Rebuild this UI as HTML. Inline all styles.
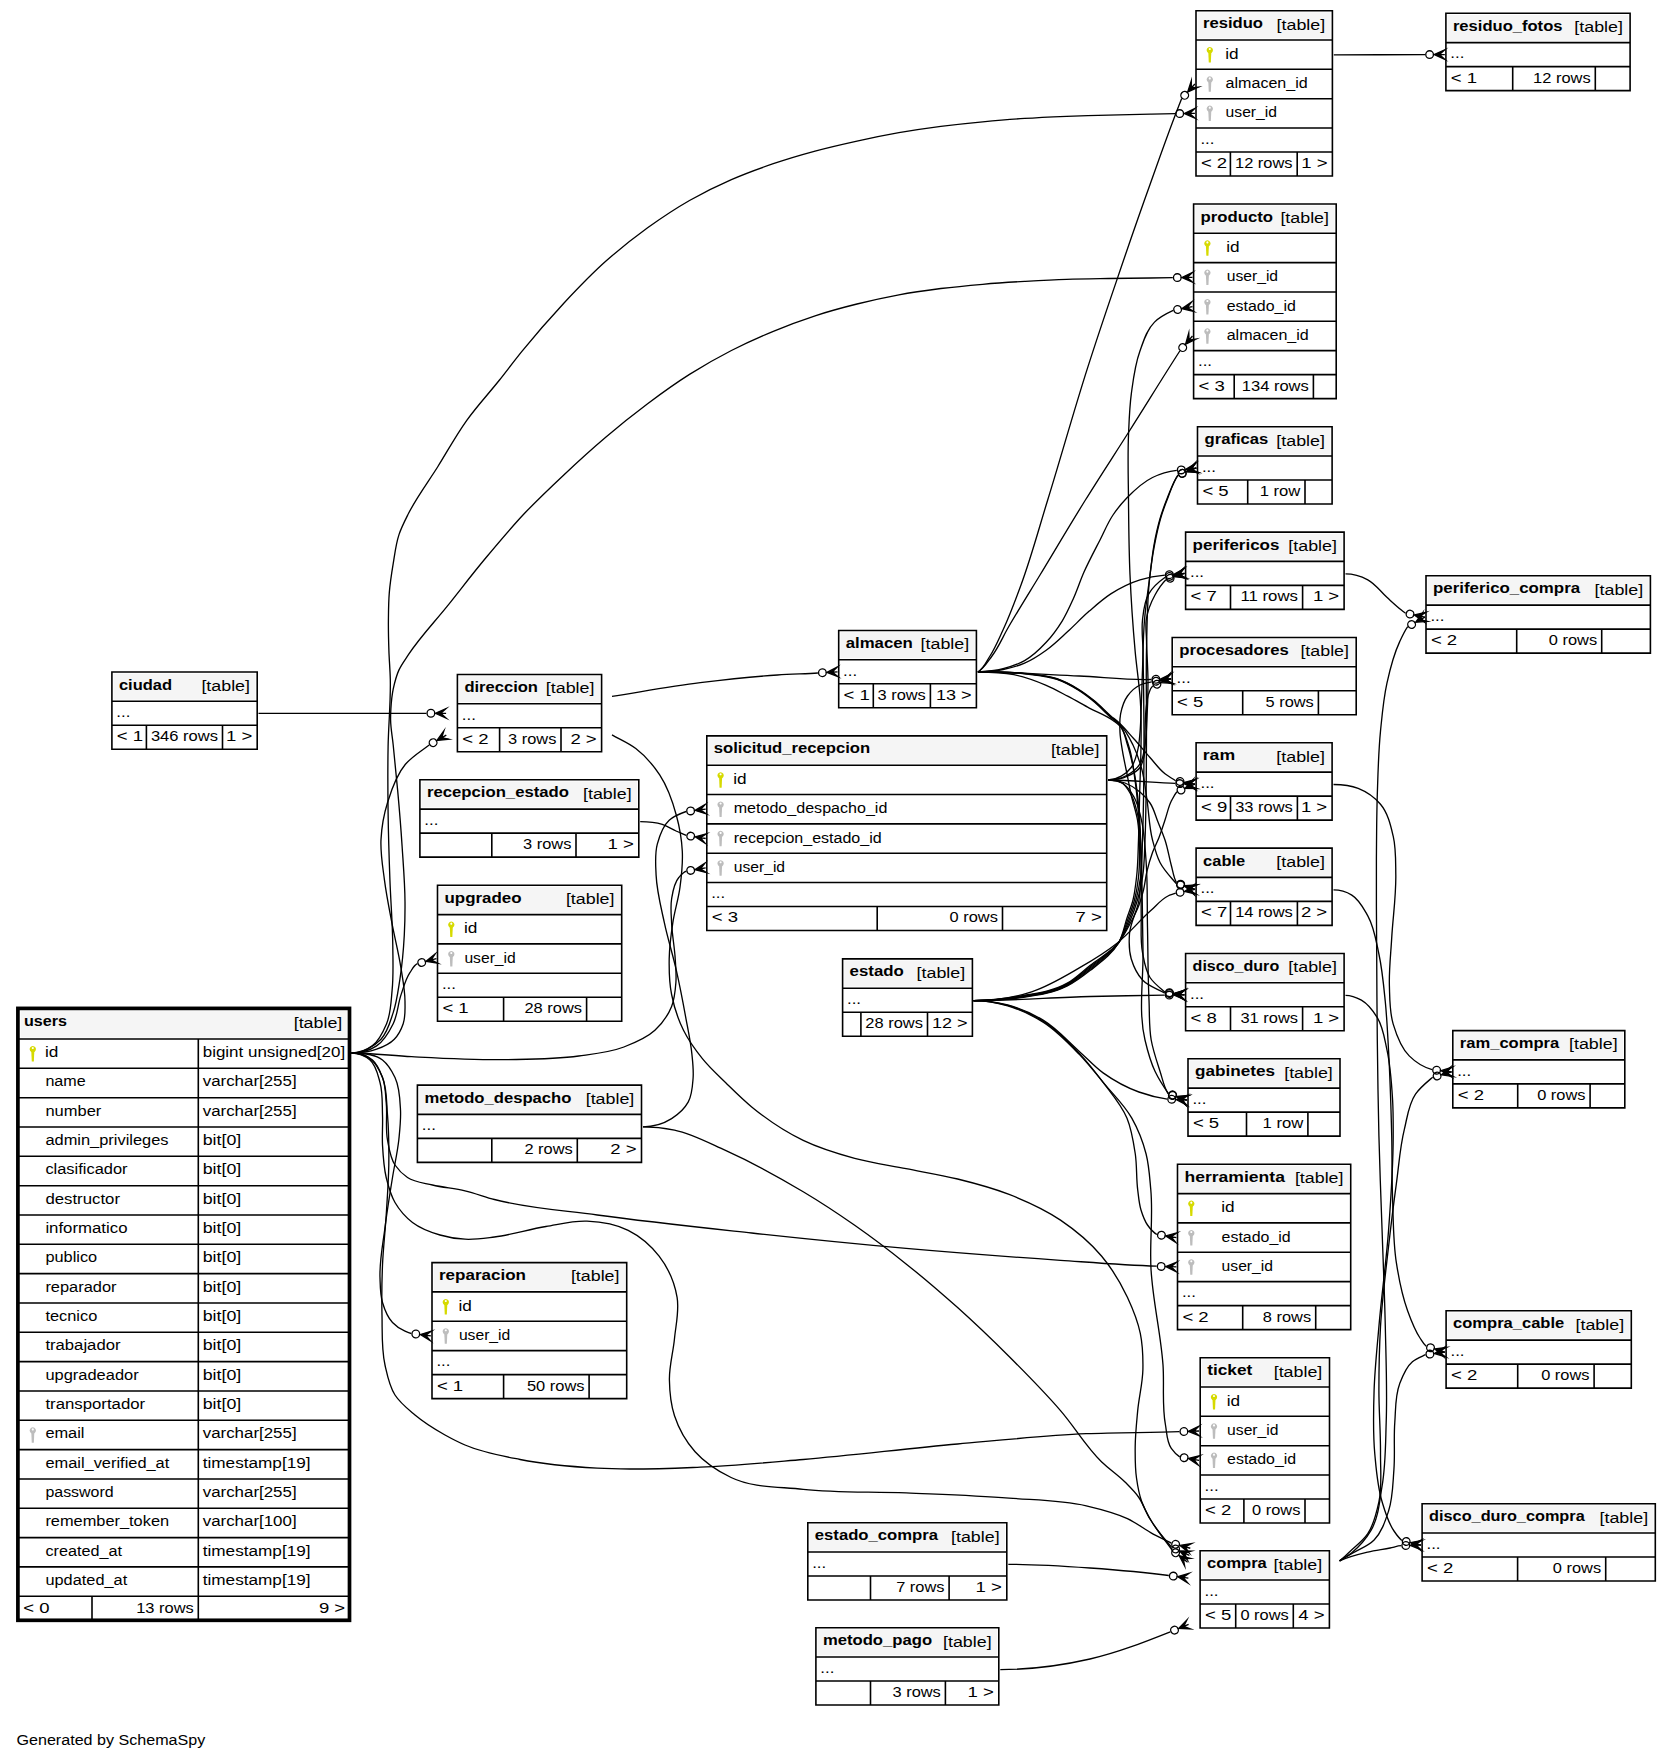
<!DOCTYPE html>
<html><head><meta charset="utf-8"><title>SchemaSpy relationships</title>
<style>
html,body{margin:0;padding:0;background:#fff}
svg{display:block}
text{font-family:"Liberation Sans",sans-serif;font-size:15.4px;fill:#000;stroke:none}
.b{font-weight:bold}
.t{stroke:#000;stroke-width:1.6;fill:none}
.e{stroke:#000;stroke-width:1.33;fill:none}
</style></head><body>
<svg width="1671" height="1760" viewBox="0 0 1671 1760">
<defs><g id="m"><circle r="3.85" fill="none"/><path d="M4.5 0L15.2 -4.8L9.85 0L15.2 0L9.85 0L15.2 4.8Z" fill="#000" stroke-miterlimit="10"/></g></defs>
<rect width="1671" height="1760" fill="#fff"/>
<g class="t">
<rect x="111.9" y="672.0" width="145.3" height="77.3" fill="#fff" stroke="none"/>
<rect x="113.6" y="673.7" width="141.9" height="25.9" fill="#f5f5f5" stroke="none"/>
<path d="M111.9 672.0H257.2V749.3H111.9ZM111.9 701.3H257.2M111.9 725.3H257.2M146.4 725.3V749.3M222.5 725.3V749.3"/>
</g>
<text x="118.9" y="689.5" class="b" textLength="53.1" lengthAdjust="spacingAndGlyphs">ciudad</text>
<text x="250.0" y="690.8" text-anchor="end" textLength="48.6" lengthAdjust="spacingAndGlyphs">[table]</text>
<text x="116.3" y="717.1" textLength="14.0" lengthAdjust="spacingAndGlyphs">...</text>
<text x="116.8" y="741.2" textLength="26.3" lengthAdjust="spacingAndGlyphs">&lt; 1</text>
<text x="217.9" y="741.2" text-anchor="end" textLength="67.0" lengthAdjust="spacingAndGlyphs">346 rows</text>
<text x="252.3" y="741.2" text-anchor="end" textLength="26.3" lengthAdjust="spacingAndGlyphs">1 &gt;</text>
<g class="t">
<rect x="457.4" y="674.5" width="144.2" height="77.3" fill="#fff" stroke="none"/>
<rect x="459.1" y="676.2" width="140.8" height="25.9" fill="#f5f5f5" stroke="none"/>
<path d="M457.4 674.5H601.6V751.8H457.4ZM457.4 703.8H601.6M457.4 727.8H601.6M499.6 727.8V751.8M561.0 727.8V751.8"/>
</g>
<text x="464.4" y="692.0" class="b" textLength="73.6" lengthAdjust="spacingAndGlyphs">direccion</text>
<text x="594.4" y="693.3" text-anchor="end" textLength="48.6" lengthAdjust="spacingAndGlyphs">[table]</text>
<text x="461.8" y="719.6" textLength="14.0" lengthAdjust="spacingAndGlyphs">...</text>
<text x="462.3" y="743.7" textLength="26.3" lengthAdjust="spacingAndGlyphs">&lt; 2</text>
<text x="556.4" y="743.7" text-anchor="end" textLength="48.3" lengthAdjust="spacingAndGlyphs">3 rows</text>
<text x="596.7" y="743.7" text-anchor="end" textLength="26.3" lengthAdjust="spacingAndGlyphs">2 &gt;</text>
<g class="t">
<rect x="419.9" y="779.8" width="218.9" height="77.3" fill="#fff" stroke="none"/>
<rect x="421.6" y="781.5" width="215.5" height="25.9" fill="#f5f5f5" stroke="none"/>
<path d="M419.9 779.8H638.8V857.1H419.9ZM419.9 809.1H638.8M419.9 833.1H638.8M491.8 833.1V857.1M576.0 833.1V857.1"/>
</g>
<text x="426.9" y="797.3" class="b" textLength="142.1" lengthAdjust="spacingAndGlyphs">recepcion_estado</text>
<text x="631.6" y="798.6" text-anchor="end" textLength="48.6" lengthAdjust="spacingAndGlyphs">[table]</text>
<text x="424.3" y="824.9" textLength="14.0" lengthAdjust="spacingAndGlyphs">...</text>
<text x="571.4" y="849.0" text-anchor="end" textLength="48.3" lengthAdjust="spacingAndGlyphs">3 rows</text>
<text x="633.9" y="849.0" text-anchor="end" textLength="26.3" lengthAdjust="spacingAndGlyphs">1 &gt;</text>
<g class="t">
<rect x="437.5" y="885.3" width="184.2" height="136.0" fill="#fff" stroke="none"/>
<rect x="439.2" y="887.0" width="180.8" height="25.9" fill="#f5f5f5" stroke="none"/>
<path d="M437.5 885.3H621.7V1021.3H437.5ZM437.5 914.6H621.7M437.5 943.9H621.7M437.5 973.3H621.7M437.5 997.3H621.7M503.6 997.3V1021.3M586.6 997.3V1021.3"/>
</g>
<text x="444.5" y="902.8" class="b" textLength="77.1" lengthAdjust="spacingAndGlyphs">upgradeo</text>
<text x="614.5" y="904.1" text-anchor="end" textLength="48.6" lengthAdjust="spacingAndGlyphs">[table]</text>
<g transform="translate(451.3 929.5)" fill="#d6da00" stroke="none"><path fill-rule="evenodd" d="M0 -7.9a3.15 3.15 0 1 0 0.001 0zM0 -6.9a1.05 1.05 0 1 1 -0.001 0z"/><path d="M-1.5 -2.6L1.5 -2.6L1.05 7.6L-1.05 7.6z"/></g>
<text x="464.0" y="933.2" textLength="13.4" lengthAdjust="spacingAndGlyphs">id</text>
<g transform="translate(451.3 958.8)" fill="#bdbdbd" stroke="none"><path fill-rule="evenodd" d="M0 -7.9a3.15 3.15 0 1 0 0.001 0zM0 -6.9a1.05 1.05 0 1 1 -0.001 0z"/><path d="M-1.5 -2.6L1.5 -2.6L1.05 7.6L-1.05 7.6z"/></g>
<text x="464.4" y="962.5" textLength="51.4" lengthAdjust="spacingAndGlyphs">user_id</text>
<text x="441.9" y="989.1" textLength="14.0" lengthAdjust="spacingAndGlyphs">...</text>
<text x="442.4" y="1013.2" textLength="26.3" lengthAdjust="spacingAndGlyphs">&lt; 1</text>
<text x="582.0" y="1013.2" text-anchor="end" textLength="57.6" lengthAdjust="spacingAndGlyphs">28 rows</text>
<g class="t">
<rect x="417.4" y="1085.1" width="224.1" height="77.3" fill="#fff" stroke="none"/>
<rect x="419.1" y="1086.8" width="220.7" height="25.9" fill="#f5f5f5" stroke="none"/>
<path d="M417.4 1085.1H641.5V1162.4H417.4ZM417.4 1114.4H641.5M417.4 1138.4H641.5M491.8 1138.4V1162.4M577.3 1138.4V1162.4"/>
</g>
<text x="424.4" y="1102.6" class="b" textLength="147.0" lengthAdjust="spacingAndGlyphs">metodo_despacho</text>
<text x="634.3" y="1103.9" text-anchor="end" textLength="48.6" lengthAdjust="spacingAndGlyphs">[table]</text>
<text x="421.8" y="1130.2" textLength="14.0" lengthAdjust="spacingAndGlyphs">...</text>
<text x="572.7" y="1154.3" text-anchor="end" textLength="48.3" lengthAdjust="spacingAndGlyphs">2 rows</text>
<text x="636.6" y="1154.3" text-anchor="end" textLength="26.3" lengthAdjust="spacingAndGlyphs">2 &gt;</text>
<g class="t">
<rect x="432.0" y="1262.6" width="194.7" height="136.0" fill="#fff" stroke="none"/>
<rect x="433.7" y="1264.3" width="191.3" height="25.9" fill="#f5f5f5" stroke="none"/>
<path d="M432.0 1262.6H626.7V1398.6H432.0ZM432.0 1291.9H626.7M432.0 1321.2H626.7M432.0 1350.6H626.7M432.0 1374.6H626.7M503.6 1374.6V1398.6M589.1 1374.6V1398.6"/>
</g>
<text x="439.0" y="1280.1" class="b" textLength="87.0" lengthAdjust="spacingAndGlyphs">reparacion</text>
<text x="619.5" y="1281.4" text-anchor="end" textLength="48.6" lengthAdjust="spacingAndGlyphs">[table]</text>
<g transform="translate(445.8 1306.8)" fill="#d6da00" stroke="none"><path fill-rule="evenodd" d="M0 -7.9a3.15 3.15 0 1 0 0.001 0zM0 -6.9a1.05 1.05 0 1 1 -0.001 0z"/><path d="M-1.5 -2.6L1.5 -2.6L1.05 7.6L-1.05 7.6z"/></g>
<text x="458.5" y="1310.5" textLength="13.4" lengthAdjust="spacingAndGlyphs">id</text>
<g transform="translate(445.8 1336.1)" fill="#bdbdbd" stroke="none"><path fill-rule="evenodd" d="M0 -7.9a3.15 3.15 0 1 0 0.001 0zM0 -6.9a1.05 1.05 0 1 1 -0.001 0z"/><path d="M-1.5 -2.6L1.5 -2.6L1.05 7.6L-1.05 7.6z"/></g>
<text x="458.9" y="1339.8" textLength="51.4" lengthAdjust="spacingAndGlyphs">user_id</text>
<text x="436.4" y="1366.4" textLength="14.0" lengthAdjust="spacingAndGlyphs">...</text>
<text x="436.9" y="1390.5" textLength="26.3" lengthAdjust="spacingAndGlyphs">&lt; 1</text>
<text x="584.5" y="1390.5" text-anchor="end" textLength="57.6" lengthAdjust="spacingAndGlyphs">50 rows</text>
<g class="t">
<rect x="838.7" y="630.5" width="137.7" height="77.3" fill="#fff" stroke="none"/>
<rect x="840.4" y="632.2" width="134.3" height="25.9" fill="#f5f5f5" stroke="none"/>
<path d="M838.7 630.5H976.4V707.8H838.7ZM838.7 659.8H976.4M838.7 683.8H976.4M873.3 683.8V707.8M930.4 683.8V707.8"/>
</g>
<text x="845.7" y="648.0" class="b" textLength="67.2" lengthAdjust="spacingAndGlyphs">almacen</text>
<text x="969.2" y="649.3" text-anchor="end" textLength="48.6" lengthAdjust="spacingAndGlyphs">[table]</text>
<text x="843.1" y="675.6" textLength="14.0" lengthAdjust="spacingAndGlyphs">...</text>
<text x="843.6" y="699.7" textLength="26.3" lengthAdjust="spacingAndGlyphs">&lt; 1</text>
<text x="925.8" y="699.7" text-anchor="end" textLength="48.3" lengthAdjust="spacingAndGlyphs">3 rows</text>
<text x="971.5" y="699.7" text-anchor="end" textLength="35.6" lengthAdjust="spacingAndGlyphs">13 &gt;</text>
<g class="t">
<rect x="706.8" y="735.9" width="399.9" height="194.6" fill="#fff" stroke="none"/>
<rect x="708.5" y="737.6" width="396.5" height="25.9" fill="#f5f5f5" stroke="none"/>
<path d="M706.8 735.9H1106.7V930.5H706.8ZM706.8 765.2H1106.7M706.8 794.5H1106.7M706.8 823.9H1106.7M706.8 853.2H1106.7M706.8 882.5H1106.7M706.8 906.5H1106.7M877.2 906.5V930.5M1002.5 906.5V930.5"/>
</g>
<text x="713.8" y="753.4" class="b" textLength="156.4" lengthAdjust="spacingAndGlyphs">solicitud_recepcion</text>
<text x="1099.5" y="754.7" text-anchor="end" textLength="48.6" lengthAdjust="spacingAndGlyphs">[table]</text>
<g transform="translate(720.6 780.1)" fill="#d6da00" stroke="none"><path fill-rule="evenodd" d="M0 -7.9a3.15 3.15 0 1 0 0.001 0zM0 -6.9a1.05 1.05 0 1 1 -0.001 0z"/><path d="M-1.5 -2.6L1.5 -2.6L1.05 7.6L-1.05 7.6z"/></g>
<text x="733.3" y="783.8" textLength="13.4" lengthAdjust="spacingAndGlyphs">id</text>
<g transform="translate(720.6 809.4)" fill="#bdbdbd" stroke="none"><path fill-rule="evenodd" d="M0 -7.9a3.15 3.15 0 1 0 0.001 0zM0 -6.9a1.05 1.05 0 1 1 -0.001 0z"/><path d="M-1.5 -2.6L1.5 -2.6L1.05 7.6L-1.05 7.6z"/></g>
<text x="733.7" y="813.1" textLength="153.7" lengthAdjust="spacingAndGlyphs">metodo_despacho_id</text>
<g transform="translate(720.6 838.7)" fill="#bdbdbd" stroke="none"><path fill-rule="evenodd" d="M0 -7.9a3.15 3.15 0 1 0 0.001 0zM0 -6.9a1.05 1.05 0 1 1 -0.001 0z"/><path d="M-1.5 -2.6L1.5 -2.6L1.05 7.6L-1.05 7.6z"/></g>
<text x="733.7" y="842.5" textLength="148.0" lengthAdjust="spacingAndGlyphs">recepcion_estado_id</text>
<g transform="translate(720.6 868.1)" fill="#bdbdbd" stroke="none"><path fill-rule="evenodd" d="M0 -7.9a3.15 3.15 0 1 0 0.001 0zM0 -6.9a1.05 1.05 0 1 1 -0.001 0z"/><path d="M-1.5 -2.6L1.5 -2.6L1.05 7.6L-1.05 7.6z"/></g>
<text x="733.7" y="871.8" textLength="51.4" lengthAdjust="spacingAndGlyphs">user_id</text>
<text x="711.2" y="898.3" textLength="14.0" lengthAdjust="spacingAndGlyphs">...</text>
<text x="711.7" y="922.4" textLength="26.3" lengthAdjust="spacingAndGlyphs">&lt; 3</text>
<text x="997.9" y="922.4" text-anchor="end" textLength="48.3" lengthAdjust="spacingAndGlyphs">0 rows</text>
<text x="1101.8" y="922.4" text-anchor="end" textLength="26.3" lengthAdjust="spacingAndGlyphs">7 &gt;</text>
<g class="t">
<rect x="842.6" y="958.9" width="129.8" height="77.3" fill="#fff" stroke="none"/>
<rect x="844.3" y="960.6" width="126.4" height="25.9" fill="#f5f5f5" stroke="none"/>
<path d="M842.6 958.9H972.4V1036.2H842.6ZM842.6 988.2H972.4M842.6 1012.2H972.4M860.9 1012.2V1036.2M927.5 1012.2V1036.2"/>
</g>
<text x="849.6" y="976.4" class="b" textLength="54.2" lengthAdjust="spacingAndGlyphs">estado</text>
<text x="965.2" y="977.7" text-anchor="end" textLength="48.6" lengthAdjust="spacingAndGlyphs">[table]</text>
<text x="847.0" y="1004.0" textLength="14.0" lengthAdjust="spacingAndGlyphs">...</text>
<text x="922.9" y="1028.1" text-anchor="end" textLength="57.6" lengthAdjust="spacingAndGlyphs">28 rows</text>
<text x="967.5" y="1028.1" text-anchor="end" textLength="35.6" lengthAdjust="spacingAndGlyphs">12 &gt;</text>
<g class="t">
<rect x="807.8" y="1522.7" width="199.0" height="77.3" fill="#fff" stroke="none"/>
<rect x="809.5" y="1524.4" width="195.6" height="25.9" fill="#f5f5f5" stroke="none"/>
<path d="M807.8 1522.7H1006.8V1600.0H807.8ZM807.8 1552.0H1006.8M807.8 1576.0H1006.8M870.5 1576.0V1600.0M949.1 1576.0V1600.0"/>
</g>
<text x="814.8" y="1540.2" class="b" textLength="123.2" lengthAdjust="spacingAndGlyphs">estado_compra</text>
<text x="999.6" y="1541.5" text-anchor="end" textLength="48.6" lengthAdjust="spacingAndGlyphs">[table]</text>
<text x="812.2" y="1567.8" textLength="14.0" lengthAdjust="spacingAndGlyphs">...</text>
<text x="944.5" y="1591.9" text-anchor="end" textLength="48.3" lengthAdjust="spacingAndGlyphs">7 rows</text>
<text x="1001.9" y="1591.9" text-anchor="end" textLength="26.3" lengthAdjust="spacingAndGlyphs">1 &gt;</text>
<g class="t">
<rect x="815.9" y="1627.7" width="182.9" height="77.3" fill="#fff" stroke="none"/>
<rect x="817.6" y="1629.4" width="179.5" height="25.9" fill="#f5f5f5" stroke="none"/>
<path d="M815.9 1627.7H998.8V1705.0H815.9ZM815.9 1657.0H998.8M815.9 1681.0H998.8M870.5 1681.0V1705.0M945.4 1681.0V1705.0"/>
</g>
<text x="822.9" y="1645.2" class="b" textLength="109.2" lengthAdjust="spacingAndGlyphs">metodo_pago</text>
<text x="991.6" y="1646.5" text-anchor="end" textLength="48.6" lengthAdjust="spacingAndGlyphs">[table]</text>
<text x="820.3" y="1672.8" textLength="14.0" lengthAdjust="spacingAndGlyphs">...</text>
<text x="940.8" y="1696.9" text-anchor="end" textLength="48.3" lengthAdjust="spacingAndGlyphs">3 rows</text>
<text x="993.9" y="1696.9" text-anchor="end" textLength="26.3" lengthAdjust="spacingAndGlyphs">1 &gt;</text>
<g class="t">
<rect x="1196.0" y="10.7" width="136.4" height="165.3" fill="#fff" stroke="none"/>
<rect x="1197.7" y="12.4" width="133.0" height="25.9" fill="#f5f5f5" stroke="none"/>
<path d="M1196.0 10.7H1332.4V176.0H1196.0ZM1196.0 40.0H1332.4M1196.0 69.3H1332.4M1196.0 98.7H1332.4M1196.0 128.0H1332.4M1196.0 152.0H1332.4M1230.4 152.0V176.0M1297.2 152.0V176.0"/>
</g>
<text x="1203.0" y="28.2" class="b" textLength="60.0" lengthAdjust="spacingAndGlyphs">residuo</text>
<text x="1325.2" y="29.5" text-anchor="end" textLength="48.6" lengthAdjust="spacingAndGlyphs">[table]</text>
<g transform="translate(1209.8 54.9)" fill="#d6da00" stroke="none"><path fill-rule="evenodd" d="M0 -7.9a3.15 3.15 0 1 0 0.001 0zM0 -6.9a1.05 1.05 0 1 1 -0.001 0z"/><path d="M-1.5 -2.6L1.5 -2.6L1.05 7.6L-1.05 7.6z"/></g>
<text x="1225.2" y="58.6" textLength="13.4" lengthAdjust="spacingAndGlyphs">id</text>
<g transform="translate(1209.8 84.2)" fill="#bdbdbd" stroke="none"><path fill-rule="evenodd" d="M0 -7.9a3.15 3.15 0 1 0 0.001 0zM0 -6.9a1.05 1.05 0 1 1 -0.001 0z"/><path d="M-1.5 -2.6L1.5 -2.6L1.05 7.6L-1.05 7.6z"/></g>
<text x="1225.6" y="87.9" textLength="82.1" lengthAdjust="spacingAndGlyphs">almacen_id</text>
<g transform="translate(1209.8 113.5)" fill="#bdbdbd" stroke="none"><path fill-rule="evenodd" d="M0 -7.9a3.15 3.15 0 1 0 0.001 0zM0 -6.9a1.05 1.05 0 1 1 -0.001 0z"/><path d="M-1.5 -2.6L1.5 -2.6L1.05 7.6L-1.05 7.6z"/></g>
<text x="1225.6" y="117.3" textLength="51.4" lengthAdjust="spacingAndGlyphs">user_id</text>
<text x="1200.4" y="143.8" textLength="14.0" lengthAdjust="spacingAndGlyphs">...</text>
<text x="1200.9" y="167.9" textLength="26.3" lengthAdjust="spacingAndGlyphs">&lt; 2</text>
<text x="1292.6" y="167.9" text-anchor="end" textLength="57.6" lengthAdjust="spacingAndGlyphs">12 rows</text>
<text x="1327.5" y="167.9" text-anchor="end" textLength="26.3" lengthAdjust="spacingAndGlyphs">1 &gt;</text>
<g class="t">
<rect x="1445.9" y="13.3" width="184.2" height="77.3" fill="#fff" stroke="none"/>
<rect x="1447.6" y="15.0" width="180.8" height="25.9" fill="#f5f5f5" stroke="none"/>
<path d="M1445.9 13.3H1630.1V90.6H1445.9ZM1445.9 42.6H1630.1M1445.9 66.6H1630.1M1512.7 66.6V90.6M1595.3 66.6V90.6"/>
</g>
<text x="1452.9" y="30.8" class="b" textLength="109.6" lengthAdjust="spacingAndGlyphs">residuo_fotos</text>
<text x="1622.9" y="32.1" text-anchor="end" textLength="48.6" lengthAdjust="spacingAndGlyphs">[table]</text>
<text x="1450.3" y="58.4" textLength="14.0" lengthAdjust="spacingAndGlyphs">...</text>
<text x="1450.8" y="82.5" textLength="26.3" lengthAdjust="spacingAndGlyphs">&lt; 1</text>
<text x="1590.7" y="82.5" text-anchor="end" textLength="57.6" lengthAdjust="spacingAndGlyphs">12 rows</text>
<g class="t">
<rect x="1193.6" y="204.0" width="142.6" height="194.6" fill="#fff" stroke="none"/>
<rect x="1195.3" y="205.7" width="139.2" height="25.9" fill="#f5f5f5" stroke="none"/>
<path d="M1193.6 204.0H1336.2V398.6H1193.6ZM1193.6 233.3H1336.2M1193.6 262.6H1336.2M1193.6 292.0H1336.2M1193.6 321.3H1336.2M1193.6 350.6H1336.2M1193.6 374.6H1336.2M1234.2 374.6V398.6M1313.4 374.6V398.6"/>
</g>
<text x="1200.6" y="221.5" class="b" textLength="72.5" lengthAdjust="spacingAndGlyphs">producto</text>
<text x="1329.0" y="222.8" text-anchor="end" textLength="48.6" lengthAdjust="spacingAndGlyphs">[table]</text>
<g transform="translate(1207.4 248.2)" fill="#d6da00" stroke="none"><path fill-rule="evenodd" d="M0 -7.9a3.15 3.15 0 1 0 0.001 0zM0 -6.9a1.05 1.05 0 1 1 -0.001 0z"/><path d="M-1.5 -2.6L1.5 -2.6L1.05 7.6L-1.05 7.6z"/></g>
<text x="1226.3" y="251.9" textLength="13.4" lengthAdjust="spacingAndGlyphs">id</text>
<g transform="translate(1207.4 277.5)" fill="#bdbdbd" stroke="none"><path fill-rule="evenodd" d="M0 -7.9a3.15 3.15 0 1 0 0.001 0zM0 -6.9a1.05 1.05 0 1 1 -0.001 0z"/><path d="M-1.5 -2.6L1.5 -2.6L1.05 7.6L-1.05 7.6z"/></g>
<text x="1226.7" y="281.2" textLength="51.4" lengthAdjust="spacingAndGlyphs">user_id</text>
<g transform="translate(1207.4 306.8)" fill="#bdbdbd" stroke="none"><path fill-rule="evenodd" d="M0 -7.9a3.15 3.15 0 1 0 0.001 0zM0 -6.9a1.05 1.05 0 1 1 -0.001 0z"/><path d="M-1.5 -2.6L1.5 -2.6L1.05 7.6L-1.05 7.6z"/></g>
<text x="1226.7" y="310.6" textLength="69.1" lengthAdjust="spacingAndGlyphs">estado_id</text>
<g transform="translate(1207.4 336.2)" fill="#bdbdbd" stroke="none"><path fill-rule="evenodd" d="M0 -7.9a3.15 3.15 0 1 0 0.001 0zM0 -6.9a1.05 1.05 0 1 1 -0.001 0z"/><path d="M-1.5 -2.6L1.5 -2.6L1.05 7.6L-1.05 7.6z"/></g>
<text x="1226.7" y="339.9" textLength="82.1" lengthAdjust="spacingAndGlyphs">almacen_id</text>
<text x="1198.0" y="366.4" textLength="14.0" lengthAdjust="spacingAndGlyphs">...</text>
<text x="1198.5" y="390.5" textLength="26.3" lengthAdjust="spacingAndGlyphs">&lt; 3</text>
<text x="1308.8" y="390.5" text-anchor="end" textLength="67.0" lengthAdjust="spacingAndGlyphs">134 rows</text>
<g class="t">
<rect x="1197.5" y="426.7" width="134.6" height="77.3" fill="#fff" stroke="none"/>
<rect x="1199.2" y="428.4" width="131.2" height="25.9" fill="#f5f5f5" stroke="none"/>
<path d="M1197.5 426.7H1332.1V504.0H1197.5ZM1197.5 456.0H1332.1M1197.5 480.0H1332.1M1247.7 480.0V504.0M1305.0 480.0V504.0"/>
</g>
<text x="1204.5" y="444.2" class="b" textLength="63.8" lengthAdjust="spacingAndGlyphs">graficas</text>
<text x="1324.9" y="445.5" text-anchor="end" textLength="48.6" lengthAdjust="spacingAndGlyphs">[table]</text>
<text x="1201.9" y="471.8" textLength="14.0" lengthAdjust="spacingAndGlyphs">...</text>
<text x="1202.4" y="495.9" textLength="26.3" lengthAdjust="spacingAndGlyphs">&lt; 5</text>
<text x="1300.4" y="495.9" text-anchor="end" textLength="40.7" lengthAdjust="spacingAndGlyphs">1 row</text>
<g class="t">
<rect x="1185.6" y="532.1" width="158.5" height="77.3" fill="#fff" stroke="none"/>
<rect x="1187.3" y="533.8" width="155.1" height="25.9" fill="#f5f5f5" stroke="none"/>
<path d="M1185.6 532.1H1344.1V609.4H1185.6ZM1185.6 561.4H1344.1M1185.6 585.4H1344.1M1230.5 585.4V609.4M1302.6 585.4V609.4"/>
</g>
<text x="1192.6" y="549.6" class="b" textLength="86.8" lengthAdjust="spacingAndGlyphs">perifericos</text>
<text x="1336.9" y="550.9" text-anchor="end" textLength="48.6" lengthAdjust="spacingAndGlyphs">[table]</text>
<text x="1190.0" y="577.2" textLength="14.0" lengthAdjust="spacingAndGlyphs">...</text>
<text x="1190.5" y="601.3" textLength="26.3" lengthAdjust="spacingAndGlyphs">&lt; 7</text>
<text x="1298.0" y="601.3" text-anchor="end" textLength="57.6" lengthAdjust="spacingAndGlyphs">11 rows</text>
<text x="1339.2" y="601.3" text-anchor="end" textLength="26.3" lengthAdjust="spacingAndGlyphs">1 &gt;</text>
<g class="t">
<rect x="1172.2" y="637.5" width="184.0" height="77.3" fill="#fff" stroke="none"/>
<rect x="1173.9" y="639.2" width="180.6" height="25.9" fill="#f5f5f5" stroke="none"/>
<path d="M1172.2 637.5H1356.2V714.8H1172.2ZM1172.2 666.8H1356.2M1172.2 690.8H1356.2M1242.7 690.8V714.8M1318.4 690.8V714.8"/>
</g>
<text x="1179.2" y="655.0" class="b" textLength="109.6" lengthAdjust="spacingAndGlyphs">procesadores</text>
<text x="1349.0" y="656.3" text-anchor="end" textLength="48.6" lengthAdjust="spacingAndGlyphs">[table]</text>
<text x="1176.6" y="682.6" textLength="14.0" lengthAdjust="spacingAndGlyphs">...</text>
<text x="1177.1" y="706.7" textLength="26.3" lengthAdjust="spacingAndGlyphs">&lt; 5</text>
<text x="1313.8" y="706.7" text-anchor="end" textLength="48.3" lengthAdjust="spacingAndGlyphs">5 rows</text>
<g class="t">
<rect x="1196.1" y="742.8" width="136.0" height="77.3" fill="#fff" stroke="none"/>
<rect x="1197.8" y="744.5" width="132.6" height="25.9" fill="#f5f5f5" stroke="none"/>
<path d="M1196.1 742.8H1332.1V820.1H1196.1ZM1196.1 772.1H1332.1M1196.1 796.1H1332.1M1230.5 796.1V820.1M1297.4 796.1V820.1"/>
</g>
<text x="1202.7" y="760.3" class="b" textLength="32.4" lengthAdjust="spacingAndGlyphs">ram</text>
<text x="1324.9" y="761.6" text-anchor="end" textLength="48.6" lengthAdjust="spacingAndGlyphs">[table]</text>
<text x="1200.5" y="787.9" textLength="14.0" lengthAdjust="spacingAndGlyphs">...</text>
<text x="1201.0" y="812.0" textLength="26.3" lengthAdjust="spacingAndGlyphs">&lt; 9</text>
<text x="1292.8" y="812.0" text-anchor="end" textLength="57.6" lengthAdjust="spacingAndGlyphs">33 rows</text>
<text x="1327.2" y="812.0" text-anchor="end" textLength="26.3" lengthAdjust="spacingAndGlyphs">1 &gt;</text>
<g class="t">
<rect x="1196.1" y="848.1" width="136.0" height="77.3" fill="#fff" stroke="none"/>
<rect x="1197.8" y="849.8" width="132.6" height="25.9" fill="#f5f5f5" stroke="none"/>
<path d="M1196.1 848.1H1332.1V925.4H1196.1ZM1196.1 877.4H1332.1M1196.1 901.4H1332.1M1230.5 901.4V925.4M1297.4 901.4V925.4"/>
</g>
<text x="1203.1" y="865.6" class="b" textLength="42.1" lengthAdjust="spacingAndGlyphs">cable</text>
<text x="1324.9" y="866.9" text-anchor="end" textLength="48.6" lengthAdjust="spacingAndGlyphs">[table]</text>
<text x="1200.5" y="893.2" textLength="14.0" lengthAdjust="spacingAndGlyphs">...</text>
<text x="1201.0" y="917.3" textLength="26.3" lengthAdjust="spacingAndGlyphs">&lt; 7</text>
<text x="1292.8" y="917.3" text-anchor="end" textLength="57.6" lengthAdjust="spacingAndGlyphs">14 rows</text>
<text x="1327.2" y="917.3" text-anchor="end" textLength="26.3" lengthAdjust="spacingAndGlyphs">2 &gt;</text>
<g class="t">
<rect x="1185.6" y="953.5" width="158.5" height="77.3" fill="#fff" stroke="none"/>
<rect x="1187.3" y="955.2" width="155.1" height="25.9" fill="#f5f5f5" stroke="none"/>
<path d="M1185.6 953.5H1344.1V1030.8H1185.6ZM1185.6 982.8H1344.1M1185.6 1006.8H1344.1M1230.5 1006.8V1030.8M1302.6 1006.8V1030.8"/>
</g>
<text x="1192.6" y="971.0" class="b" textLength="86.6" lengthAdjust="spacingAndGlyphs">disco_duro</text>
<text x="1336.9" y="972.3" text-anchor="end" textLength="48.6" lengthAdjust="spacingAndGlyphs">[table]</text>
<text x="1190.0" y="998.6" textLength="14.0" lengthAdjust="spacingAndGlyphs">...</text>
<text x="1190.5" y="1022.7" textLength="26.3" lengthAdjust="spacingAndGlyphs">&lt; 8</text>
<text x="1298.0" y="1022.7" text-anchor="end" textLength="57.6" lengthAdjust="spacingAndGlyphs">31 rows</text>
<text x="1339.2" y="1022.7" text-anchor="end" textLength="26.3" lengthAdjust="spacingAndGlyphs">1 &gt;</text>
<g class="t">
<rect x="1188.0" y="1058.8" width="152.0" height="77.3" fill="#fff" stroke="none"/>
<rect x="1189.7" y="1060.5" width="148.6" height="25.9" fill="#f5f5f5" stroke="none"/>
<path d="M1188.0 1058.8H1340.0V1136.1H1188.0ZM1188.0 1088.1H1340.0M1188.0 1112.1H1340.0M1246.5 1112.1V1136.1M1307.9 1112.1V1136.1"/>
</g>
<text x="1195.0" y="1076.3" class="b" textLength="80.0" lengthAdjust="spacingAndGlyphs">gabinetes</text>
<text x="1332.8" y="1077.6" text-anchor="end" textLength="48.6" lengthAdjust="spacingAndGlyphs">[table]</text>
<text x="1192.4" y="1103.9" textLength="14.0" lengthAdjust="spacingAndGlyphs">...</text>
<text x="1192.9" y="1128.0" textLength="26.3" lengthAdjust="spacingAndGlyphs">&lt; 5</text>
<text x="1303.3" y="1128.0" text-anchor="end" textLength="40.7" lengthAdjust="spacingAndGlyphs">1 row</text>
<g class="t">
<rect x="1177.5" y="1164.3" width="173.2" height="165.3" fill="#fff" stroke="none"/>
<rect x="1179.2" y="1166.0" width="169.8" height="25.9" fill="#f5f5f5" stroke="none"/>
<path d="M1177.5 1164.3H1350.7V1329.6H1177.5ZM1177.5 1193.6H1350.7M1177.5 1222.9H1350.7M1177.5 1252.3H1350.7M1177.5 1281.6H1350.7M1177.5 1305.6H1350.7M1242.7 1305.6V1329.6M1315.7 1305.6V1329.6"/>
</g>
<text x="1184.5" y="1181.8" class="b" textLength="100.4" lengthAdjust="spacingAndGlyphs">herramienta</text>
<text x="1343.5" y="1183.1" text-anchor="end" textLength="48.6" lengthAdjust="spacingAndGlyphs">[table]</text>
<g transform="translate(1191.3 1208.5)" fill="#d6da00" stroke="none"><path fill-rule="evenodd" d="M0 -7.9a3.15 3.15 0 1 0 0.001 0zM0 -6.9a1.05 1.05 0 1 1 -0.001 0z"/><path d="M-1.5 -2.6L1.5 -2.6L1.05 7.6L-1.05 7.6z"/></g>
<text x="1221.2" y="1212.2" textLength="13.4" lengthAdjust="spacingAndGlyphs">id</text>
<g transform="translate(1191.3 1237.8)" fill="#bdbdbd" stroke="none"><path fill-rule="evenodd" d="M0 -7.9a3.15 3.15 0 1 0 0.001 0zM0 -6.9a1.05 1.05 0 1 1 -0.001 0z"/><path d="M-1.5 -2.6L1.5 -2.6L1.05 7.6L-1.05 7.6z"/></g>
<text x="1221.6" y="1241.5" textLength="69.1" lengthAdjust="spacingAndGlyphs">estado_id</text>
<g transform="translate(1191.3 1267.1)" fill="#bdbdbd" stroke="none"><path fill-rule="evenodd" d="M0 -7.9a3.15 3.15 0 1 0 0.001 0zM0 -6.9a1.05 1.05 0 1 1 -0.001 0z"/><path d="M-1.5 -2.6L1.5 -2.6L1.05 7.6L-1.05 7.6z"/></g>
<text x="1221.6" y="1270.9" textLength="51.4" lengthAdjust="spacingAndGlyphs">user_id</text>
<text x="1181.9" y="1297.4" textLength="14.0" lengthAdjust="spacingAndGlyphs">...</text>
<text x="1182.4" y="1321.5" textLength="26.3" lengthAdjust="spacingAndGlyphs">&lt; 2</text>
<text x="1311.1" y="1321.5" text-anchor="end" textLength="48.3" lengthAdjust="spacingAndGlyphs">8 rows</text>
<g class="t">
<rect x="1200.2" y="1357.7" width="129.3" height="165.3" fill="#fff" stroke="none"/>
<rect x="1201.9" y="1359.4" width="125.9" height="25.9" fill="#f5f5f5" stroke="none"/>
<path d="M1200.2 1357.7H1329.5V1523.0H1200.2ZM1200.2 1387.0H1329.5M1200.2 1416.3H1329.5M1200.2 1445.7H1329.5M1200.2 1475.0H1329.5M1200.2 1499.0H1329.5M1243.9 1499.0V1523.0M1305.0 1499.0V1523.0"/>
</g>
<text x="1207.2" y="1375.2" class="b" textLength="45.1" lengthAdjust="spacingAndGlyphs">ticket</text>
<text x="1322.3" y="1376.5" text-anchor="end" textLength="48.6" lengthAdjust="spacingAndGlyphs">[table]</text>
<g transform="translate(1214.0 1401.9)" fill="#d6da00" stroke="none"><path fill-rule="evenodd" d="M0 -7.9a3.15 3.15 0 1 0 0.001 0zM0 -6.9a1.05 1.05 0 1 1 -0.001 0z"/><path d="M-1.5 -2.6L1.5 -2.6L1.05 7.6L-1.05 7.6z"/></g>
<text x="1226.7" y="1405.6" textLength="13.4" lengthAdjust="spacingAndGlyphs">id</text>
<g transform="translate(1214.0 1431.2)" fill="#bdbdbd" stroke="none"><path fill-rule="evenodd" d="M0 -7.9a3.15 3.15 0 1 0 0.001 0zM0 -6.9a1.05 1.05 0 1 1 -0.001 0z"/><path d="M-1.5 -2.6L1.5 -2.6L1.05 7.6L-1.05 7.6z"/></g>
<text x="1227.1" y="1434.9" textLength="51.4" lengthAdjust="spacingAndGlyphs">user_id</text>
<g transform="translate(1214.0 1460.5)" fill="#bdbdbd" stroke="none"><path fill-rule="evenodd" d="M0 -7.9a3.15 3.15 0 1 0 0.001 0zM0 -6.9a1.05 1.05 0 1 1 -0.001 0z"/><path d="M-1.5 -2.6L1.5 -2.6L1.05 7.6L-1.05 7.6z"/></g>
<text x="1227.1" y="1464.3" textLength="69.1" lengthAdjust="spacingAndGlyphs">estado_id</text>
<text x="1204.6" y="1490.8" textLength="14.0" lengthAdjust="spacingAndGlyphs">...</text>
<text x="1205.1" y="1514.9" textLength="26.3" lengthAdjust="spacingAndGlyphs">&lt; 2</text>
<text x="1300.4" y="1514.9" text-anchor="end" textLength="48.3" lengthAdjust="spacingAndGlyphs">0 rows</text>
<g class="t">
<rect x="1200.1" y="1550.7" width="129.3" height="77.3" fill="#fff" stroke="none"/>
<rect x="1201.8" y="1552.4" width="125.9" height="25.9" fill="#f5f5f5" stroke="none"/>
<path d="M1200.1 1550.7H1329.4V1628.0H1200.1ZM1200.1 1580.0H1329.4M1200.1 1604.0H1329.4M1235.7 1604.0V1628.0M1293.3 1604.0V1628.0"/>
</g>
<text x="1207.1" y="1568.2" class="b" textLength="59.7" lengthAdjust="spacingAndGlyphs">compra</text>
<text x="1322.2" y="1569.5" text-anchor="end" textLength="48.6" lengthAdjust="spacingAndGlyphs">[table]</text>
<text x="1204.5" y="1595.8" textLength="14.0" lengthAdjust="spacingAndGlyphs">...</text>
<text x="1205.0" y="1619.9" textLength="26.3" lengthAdjust="spacingAndGlyphs">&lt; 5</text>
<text x="1288.7" y="1619.9" text-anchor="end" textLength="48.3" lengthAdjust="spacingAndGlyphs">0 rows</text>
<text x="1324.5" y="1619.9" text-anchor="end" textLength="26.3" lengthAdjust="spacingAndGlyphs">4 &gt;</text>
<g class="t">
<rect x="1426.0" y="575.8" width="224.4" height="77.3" fill="#fff" stroke="none"/>
<rect x="1427.7" y="577.5" width="221.0" height="25.9" fill="#f5f5f5" stroke="none"/>
<path d="M1426.0 575.8H1650.4V653.1H1426.0ZM1426.0 605.1H1650.4M1426.0 629.1H1650.4M1516.7 629.1V653.1M1601.7 629.1V653.1"/>
</g>
<text x="1433.0" y="593.3" class="b" textLength="147.1" lengthAdjust="spacingAndGlyphs">periferico_compra</text>
<text x="1643.2" y="594.6" text-anchor="end" textLength="48.6" lengthAdjust="spacingAndGlyphs">[table]</text>
<text x="1430.4" y="620.9" textLength="14.0" lengthAdjust="spacingAndGlyphs">...</text>
<text x="1430.9" y="645.0" textLength="26.3" lengthAdjust="spacingAndGlyphs">&lt; 2</text>
<text x="1597.1" y="645.0" text-anchor="end" textLength="48.3" lengthAdjust="spacingAndGlyphs">0 rows</text>
<g class="t">
<rect x="1452.8" y="1030.6" width="172.0" height="77.3" fill="#fff" stroke="none"/>
<rect x="1454.5" y="1032.3" width="168.6" height="25.9" fill="#f5f5f5" stroke="none"/>
<path d="M1452.8 1030.6H1624.8V1107.9H1452.8ZM1452.8 1059.9H1624.8M1452.8 1083.9H1624.8M1517.7 1083.9V1107.9M1590.1 1083.9V1107.9"/>
</g>
<text x="1459.8" y="1048.1" class="b" textLength="99.4" lengthAdjust="spacingAndGlyphs">ram_compra</text>
<text x="1617.6" y="1049.4" text-anchor="end" textLength="48.6" lengthAdjust="spacingAndGlyphs">[table]</text>
<text x="1457.2" y="1075.7" textLength="14.0" lengthAdjust="spacingAndGlyphs">...</text>
<text x="1457.7" y="1099.8" textLength="26.3" lengthAdjust="spacingAndGlyphs">&lt; 2</text>
<text x="1585.5" y="1099.8" text-anchor="end" textLength="48.3" lengthAdjust="spacingAndGlyphs">0 rows</text>
<g class="t">
<rect x="1446.1" y="1310.8" width="185.2" height="77.3" fill="#fff" stroke="none"/>
<rect x="1447.8" y="1312.5" width="181.8" height="25.9" fill="#f5f5f5" stroke="none"/>
<path d="M1446.1 1310.8H1631.3V1388.1H1446.1ZM1446.1 1340.1H1631.3M1446.1 1364.1H1631.3M1517.7 1364.1V1388.1M1594.1 1364.1V1388.1"/>
</g>
<text x="1453.1" y="1328.3" class="b" textLength="111.1" lengthAdjust="spacingAndGlyphs">compra_cable</text>
<text x="1624.1" y="1329.6" text-anchor="end" textLength="48.6" lengthAdjust="spacingAndGlyphs">[table]</text>
<text x="1450.5" y="1355.9" textLength="14.0" lengthAdjust="spacingAndGlyphs">...</text>
<text x="1451.0" y="1380.0" textLength="26.3" lengthAdjust="spacingAndGlyphs">&lt; 2</text>
<text x="1589.5" y="1380.0" text-anchor="end" textLength="48.3" lengthAdjust="spacingAndGlyphs">0 rows</text>
<g class="t">
<rect x="1422.1" y="1503.7" width="233.2" height="77.3" fill="#fff" stroke="none"/>
<rect x="1423.8" y="1505.4" width="229.8" height="25.9" fill="#f5f5f5" stroke="none"/>
<path d="M1422.1 1503.7H1655.3V1581.0H1422.1ZM1422.1 1533.0H1655.3M1422.1 1557.0H1655.3M1517.6 1557.0V1581.0M1605.7 1557.0V1581.0"/>
</g>
<text x="1429.1" y="1521.2" class="b" textLength="155.6" lengthAdjust="spacingAndGlyphs">disco_duro_compra</text>
<text x="1648.1" y="1522.5" text-anchor="end" textLength="48.6" lengthAdjust="spacingAndGlyphs">[table]</text>
<text x="1426.5" y="1548.8" textLength="14.0" lengthAdjust="spacingAndGlyphs">...</text>
<text x="1427.0" y="1572.9" textLength="26.3" lengthAdjust="spacingAndGlyphs">&lt; 2</text>
<text x="1601.1" y="1572.9" text-anchor="end" textLength="48.3" lengthAdjust="spacingAndGlyphs">0 rows</text>
<g class="t">
<rect x="17.9" y="1008.4" width="331.6" height="611.9" fill="#fff" stroke="none"/>
<rect x="20.6" y="1011.1" width="326.2" height="26.4" fill="#f5f5f5" stroke="none"/>
<path d="M17.9 1039.0H349.4M17.9 1068.3H349.4M17.9 1097.7H349.4M17.9 1127.0H349.4M17.9 1156.3H349.4M17.9 1185.7H349.4M17.9 1215.0H349.4M17.9 1244.3H349.4M17.9 1273.6H349.4M17.9 1303.0H349.4M17.9 1332.3H349.4M17.9 1361.6H349.4M17.9 1391.0H349.4M17.9 1420.3H349.4M17.9 1449.6H349.4M17.9 1479.0H349.4M17.9 1508.3H349.4M17.9 1537.6H349.4M17.9 1566.9H349.4M17.9 1596.3H349.4M198.3 1039.0V1620.3M92.0 1596.3V1620.3"/>
<rect x="17.9" y="1008.4" width="331.6" height="611.9" fill="none" stroke-width="3.7"/>
</g>
<text x="24.0" y="1025.9" class="b" textLength="43.1" lengthAdjust="spacingAndGlyphs">users</text>
<text x="342.3" y="1027.6" text-anchor="end" textLength="48.6" lengthAdjust="spacingAndGlyphs">[table]</text>
<g transform="translate(32.8 1053.9)" fill="#d6da00" stroke="none"><path fill-rule="evenodd" d="M0 -7.9a3.15 3.15 0 1 0 0.001 0zM0 -6.9a1.05 1.05 0 1 1 -0.001 0z"/><path d="M-1.5 -2.6L1.5 -2.6L1.05 7.6L-1.05 7.6z"/></g>
<text x="45.0" y="1057.1" textLength="13.4" lengthAdjust="spacingAndGlyphs">id</text>
<text x="202.7" y="1057.1" textLength="142.5" lengthAdjust="spacingAndGlyphs">bigint unsigned[20]</text>
<text x="45.4" y="1086.4" textLength="40.3" lengthAdjust="spacingAndGlyphs">name</text>
<text x="202.7" y="1086.4" textLength="93.9" lengthAdjust="spacingAndGlyphs">varchar[255]</text>
<text x="45.4" y="1115.8" textLength="55.9" lengthAdjust="spacingAndGlyphs">number</text>
<text x="202.7" y="1115.8" textLength="93.9" lengthAdjust="spacingAndGlyphs">varchar[255]</text>
<text x="45.4" y="1145.1" textLength="123.2" lengthAdjust="spacingAndGlyphs">admin_privileges</text>
<text x="202.7" y="1145.1" textLength="38.6" lengthAdjust="spacingAndGlyphs">bit[0]</text>
<text x="45.4" y="1174.4" textLength="82.1" lengthAdjust="spacingAndGlyphs">clasificador</text>
<text x="202.7" y="1174.4" textLength="38.6" lengthAdjust="spacingAndGlyphs">bit[0]</text>
<text x="45.4" y="1203.7" textLength="74.6" lengthAdjust="spacingAndGlyphs">destructor</text>
<text x="202.7" y="1203.7" textLength="38.6" lengthAdjust="spacingAndGlyphs">bit[0]</text>
<text x="45.4" y="1233.1" textLength="82.1" lengthAdjust="spacingAndGlyphs">informatico</text>
<text x="202.7" y="1233.1" textLength="38.6" lengthAdjust="spacingAndGlyphs">bit[0]</text>
<text x="45.4" y="1262.4" textLength="51.8" lengthAdjust="spacingAndGlyphs">publico</text>
<text x="202.7" y="1262.4" textLength="38.6" lengthAdjust="spacingAndGlyphs">bit[0]</text>
<text x="45.4" y="1291.7" textLength="71.1" lengthAdjust="spacingAndGlyphs">reparador</text>
<text x="202.7" y="1291.7" textLength="38.6" lengthAdjust="spacingAndGlyphs">bit[0]</text>
<text x="45.4" y="1321.1" textLength="51.9" lengthAdjust="spacingAndGlyphs">tecnico</text>
<text x="202.7" y="1321.1" textLength="38.6" lengthAdjust="spacingAndGlyphs">bit[0]</text>
<text x="45.4" y="1350.4" textLength="75.1" lengthAdjust="spacingAndGlyphs">trabajador</text>
<text x="202.7" y="1350.4" textLength="38.6" lengthAdjust="spacingAndGlyphs">bit[0]</text>
<text x="45.4" y="1379.7" textLength="93.3" lengthAdjust="spacingAndGlyphs">upgradeador</text>
<text x="202.7" y="1379.7" textLength="38.6" lengthAdjust="spacingAndGlyphs">bit[0]</text>
<text x="45.4" y="1409.1" textLength="99.8" lengthAdjust="spacingAndGlyphs">transportador</text>
<text x="202.7" y="1409.1" textLength="38.6" lengthAdjust="spacingAndGlyphs">bit[0]</text>
<g transform="translate(32.8 1435.2)" fill="#bdbdbd" stroke="none"><path fill-rule="evenodd" d="M0 -7.9a3.15 3.15 0 1 0 0.001 0zM0 -6.9a1.05 1.05 0 1 1 -0.001 0z"/><path d="M-1.5 -2.6L1.5 -2.6L1.05 7.6L-1.05 7.6z"/></g>
<text x="45.4" y="1438.4" textLength="39.1" lengthAdjust="spacingAndGlyphs">email</text>
<text x="202.7" y="1438.4" textLength="93.9" lengthAdjust="spacingAndGlyphs">varchar[255]</text>
<text x="45.4" y="1467.7" textLength="123.9" lengthAdjust="spacingAndGlyphs">email_verified_at</text>
<text x="202.7" y="1467.7" textLength="107.9" lengthAdjust="spacingAndGlyphs">timestamp[19]</text>
<text x="45.4" y="1497.0" textLength="68.3" lengthAdjust="spacingAndGlyphs">password</text>
<text x="202.7" y="1497.0" textLength="93.9" lengthAdjust="spacingAndGlyphs">varchar[255]</text>
<text x="45.4" y="1526.4" textLength="123.7" lengthAdjust="spacingAndGlyphs">remember_token</text>
<text x="202.7" y="1526.4" textLength="93.9" lengthAdjust="spacingAndGlyphs">varchar[100]</text>
<text x="45.4" y="1555.7" textLength="76.6" lengthAdjust="spacingAndGlyphs">created_at</text>
<text x="202.7" y="1555.7" textLength="107.9" lengthAdjust="spacingAndGlyphs">timestamp[19]</text>
<text x="45.4" y="1585.0" textLength="81.8" lengthAdjust="spacingAndGlyphs">updated_at</text>
<text x="202.7" y="1585.0" textLength="107.9" lengthAdjust="spacingAndGlyphs">timestamp[19]</text>
<text x="23.3" y="1612.6" textLength="26.3" lengthAdjust="spacingAndGlyphs">&lt; 0</text>
<text x="193.8" y="1612.6" text-anchor="end" textLength="57.6" lengthAdjust="spacingAndGlyphs">13 rows</text>
<text x="345.2" y="1612.6" text-anchor="end" textLength="26.3" lengthAdjust="spacingAndGlyphs">9 &gt;</text>
<g class="e">
<path d="M258.5 713.3C314.5 713.3 370.4 713.3 426.4 713.3"/>
<path d="M351.6 1053.0C360.0 1053.0 368.7 1052.1 376.6 1049.2C383.0 1046.9 389.6 1044.1 394.3 1039.2C398.5 1034.9 401.3 1029.3 403.2 1023.7C405.6 1016.7 405.0 1008.9 405.0 1001.5C405.0 990.3 402.7 979.2 401.0 968.2C398.7 953.3 394.9 938.7 392.1 923.9C389.3 909.2 386.3 894.5 384.4 879.6C382.7 866.3 380.3 853.0 381.0 839.6C381.6 826.9 383.9 814.2 387.7 802.0C391.8 788.7 396.5 774.9 405.4 764.3C412.0 756.5 421.1 751.2 429.2 745.0"/>
<path d="M351.6 1053.0C358.9 1053.0 366.3 1050.2 372.2 1045.9C379.3 1040.7 383.2 1031.8 386.6 1023.7C390.9 1013.3 391.0 1001.6 392.1 990.4C393.6 975.7 392.9 960.9 392.8 946.1C392.6 923.9 390.7 901.8 389.9 879.6C389.1 857.4 388.4 835.2 388.1 813.0C387.8 790.8 387.7 768.7 388.1 746.5C388.5 724.2 390.8 701.8 390.3 679.5C390.1 669.8 389.2 660.2 388.9 650.5C388.6 640.8 388.3 631.2 388.4 621.5C388.5 611.9 388.5 602.2 389.3 592.6C390.1 582.9 391.6 573.2 393.2 563.6C394.8 553.9 395.9 543.9 399.0 534.6C401.5 527.2 405.1 520.3 408.6 513.3C416.8 497.0 427.9 482.4 437.6 467.0C447.3 451.5 456.0 435.4 466.6 420.6C476.7 406.4 488.7 393.6 499.5 380.0C507.0 370.5 514.3 360.8 521.9 351.4C535.3 334.9 549.3 318.8 563.8 303.2C577.3 288.8 590.9 274.4 605.7 261.3C619.1 249.4 633.1 238.3 647.6 227.8C661.1 218.1 675.0 208.8 689.5 200.5C703.1 192.8 717.1 185.8 731.4 179.6C745.1 173.6 759.2 168.5 773.3 163.7C787.1 159.0 801.0 154.9 815.1 151.1C829.0 147.4 843.0 144.2 857.0 141.1C870.9 138.0 884.9 135.2 898.9 132.7C912.8 130.3 926.8 128.2 940.8 126.4C954.7 124.6 968.7 123.1 982.7 121.8C996.6 120.5 1010.6 119.3 1024.6 118.4C1038.6 117.5 1052.5 116.9 1066.5 116.3C1080.5 115.8 1094.4 115.5 1108.4 115.1C1122.4 114.8 1136.3 114.5 1150.3 114.2C1158.6 114.0 1166.9 113.8 1175.2 113.7"/>
<path d="M351.6 1053.0C362.4 1053.0 373.5 1047.0 381.0 1039.2C387.7 1032.1 390.1 1021.9 393.2 1012.6C396.8 1001.9 398.1 990.5 399.9 979.3C402.2 964.6 403.5 949.8 404.3 935.0C404.9 923.9 405.1 912.8 405.0 901.7C404.9 883.2 403.3 864.8 402.1 846.3C400.9 827.8 399.4 809.4 397.7 790.9C396.3 775.6 394.8 760.3 393.2 745.0C392.4 736.7 390.7 728.4 390.6 720.0C390.5 716.2 390.7 712.3 390.9 708.5C391.3 702.0 391.9 695.5 393.2 689.2C394.6 682.6 396.2 676.0 399.0 669.9C401.5 664.4 405.3 659.5 408.6 654.4C419.9 637.2 434.4 622.2 447.3 606.1C460.2 590.0 472.7 573.6 485.9 557.8C498.5 542.7 511.1 527.6 524.6 513.3C537.2 500.0 550.5 487.4 563.8 474.9C577.5 462.0 591.4 449.3 605.7 437.2C619.3 425.6 633.3 414.4 647.6 403.7C661.3 393.5 675.1 383.5 689.5 374.4C703.1 365.8 717.1 357.8 731.4 350.5C745.1 343.5 759.1 337.2 773.3 331.3C787.0 325.6 801.0 320.4 815.1 315.8C828.9 311.3 842.9 307.5 857.0 304.0C870.9 300.5 884.8 297.4 898.9 294.8C912.8 292.2 926.8 290.3 940.8 288.5C954.7 286.8 968.7 285.5 982.7 284.3C996.7 283.1 1010.6 282.2 1024.6 281.4C1038.6 280.6 1052.5 279.8 1066.5 279.3C1080.5 278.8 1094.4 278.7 1108.4 278.5C1122.4 278.3 1136.3 278.2 1150.3 278.0C1157.8 277.9 1165.3 277.8 1172.8 277.6"/>
<path d="M351.6 1053.0C360.3 1053.0 369.4 1050.7 376.6 1045.9C384.3 1040.7 389.1 1032.0 393.2 1023.7C397.6 1014.8 397.8 1004.3 401.0 994.9C403.6 987.4 405.5 979.3 409.9 972.7C412.1 969.5 413.8 965.3 417.4 963.7"/>
<path d="M351.6 1053.0C371.6 1053.0 391.6 1055.7 411.6 1056.7C443.4 1058.3 475.3 1060.1 507.1 1059.6C531.0 1059.2 555.0 1059.3 578.7 1056.0C593.9 1053.9 609.6 1052.5 623.9 1047.0C634.9 1042.8 646.3 1038.3 654.9 1030.3C662.0 1023.7 668.0 1015.4 671.6 1006.4C674.6 998.9 675.3 990.6 675.9 982.5C676.5 974.6 675.7 966.6 675.2 958.7C674.5 946.7 672.1 934.9 671.6 922.9C671.3 914.9 670.3 906.9 671.6 899.0C672.8 891.5 673.9 883.3 678.8 877.5C680.9 875.0 683.2 872.2 686.3 871.1"/>
<path d="M351.6 1053.0C362.2 1053.0 374.2 1053.5 382.5 1060.0C388.2 1064.4 391.9 1071.0 395.0 1077.5C399.7 1087.4 400.0 1099.0 400.5 1110.0C401.0 1120.0 399.8 1130.0 398.8 1140.0C397.4 1152.6 394.5 1165.0 392.5 1177.5C389.8 1194.1 387.1 1210.8 385.0 1227.5C382.9 1244.1 379.4 1260.8 380.0 1277.5C380.3 1285.9 380.1 1294.5 382.5 1302.5C384.6 1309.6 387.4 1317.1 392.5 1322.5C396.0 1326.2 400.4 1329.2 405.0 1331.2C407.0 1332.2 409.1 1333.2 411.3 1333.5"/>
<path d="M351.6 1053.0C358.0 1053.0 364.8 1055.0 370.0 1058.8C376.1 1063.1 379.7 1070.5 382.5 1077.5C385.6 1085.3 385.4 1094.1 386.2 1102.5C387.5 1114.9 385.2 1127.7 387.5 1140.0C389.1 1148.6 390.2 1157.8 395.0 1165.0C398.3 1169.9 402.6 1174.2 407.5 1177.5C414.7 1182.3 424.0 1182.9 432.5 1185.0C443.2 1187.6 454.3 1188.2 465.0 1190.8C474.9 1193.1 484.5 1196.9 494.4 1199.5C527.9 1208.3 562.9 1210.3 597.3 1215.0C648.6 1222.0 700.2 1227.4 751.7 1233.0C803.1 1238.6 854.6 1243.8 906.1 1248.4C957.5 1252.9 1009.0 1256.8 1060.5 1260.3C1092.6 1262.5 1124.6 1265.1 1156.7 1266.2"/>
<path d="M351.6 1053.0C358.9 1053.0 366.9 1055.2 372.5 1060.0C377.6 1064.4 380.0 1071.3 382.5 1077.5C387.2 1089.2 386.4 1102.4 387.5 1115.0C388.9 1131.6 389.0 1148.3 388.8 1165.0C388.5 1181.7 387.3 1198.3 386.2 1215.0C385.2 1231.7 383.2 1248.3 382.5 1265.0C381.8 1281.7 381.6 1298.3 382.0 1315.0C382.4 1331.7 381.3 1348.7 385.0 1365.0C387.3 1375.3 389.3 1386.1 395.0 1395.0C400.1 1403.0 407.8 1408.9 415.0 1415.0C424.2 1422.7 434.5 1429.1 445.0 1435.0C451.5 1438.6 458.2 1442.1 465.0 1445.0C482.5 1452.5 501.5 1455.8 520.1 1459.5C545.5 1464.5 571.5 1466.7 597.3 1468.2C631.6 1470.3 666.0 1468.6 700.3 1467.2C734.7 1465.7 768.9 1462.4 803.2 1459.5C854.7 1455.1 906.1 1448.6 957.6 1444.0C1000.5 1440.2 1043.3 1435.7 1086.3 1433.7C1117.3 1432.3 1148.4 1432.8 1179.4 1431.7"/>
<path d="M351.6 1053.0C358.2 1053.0 365.0 1055.7 370.0 1060.0C376.2 1065.4 377.8 1074.6 380.0 1082.5C382.9 1093.0 382.1 1104.1 382.5 1115.0C382.9 1125.0 382.0 1135.0 382.5 1145.0C383.1 1155.9 383.7 1166.9 386.2 1177.5C388.3 1186.1 390.6 1194.9 395.0 1202.5C399.5 1210.2 405.5 1217.1 412.5 1222.5C420.5 1228.6 430.3 1232.2 440.0 1235.0C448.1 1237.4 456.6 1238.8 465.0 1239.2C474.8 1239.8 484.6 1238.2 494.4 1237.0C511.8 1234.9 528.6 1229.3 545.9 1226.5C559.5 1224.3 573.2 1220.6 587.0 1221.2C601.1 1221.8 615.6 1224.1 628.2 1230.4C640.2 1236.4 650.9 1245.6 659.1 1256.2C668.2 1268.0 674.6 1282.5 677.1 1297.3C679.4 1310.9 675.8 1324.8 674.5 1338.5C673.2 1352.3 669.2 1365.9 669.4 1379.7C669.6 1391.8 670.7 1404.2 674.5 1415.7C678.8 1428.8 685.9 1441.4 695.1 1451.7C704.9 1462.7 717.8 1471.1 731.1 1477.5C753.0 1488.1 779.0 1486.6 803.2 1489.3C837.3 1493.0 871.8 1491.4 906.1 1492.9C940.4 1494.4 974.8 1495.4 1009.1 1498.1C1034.9 1500.1 1061.1 1499.9 1086.3 1505.8C1100.3 1509.1 1114.4 1512.5 1127.4 1518.6C1136.5 1522.9 1144.4 1529.3 1153.2 1534.1C1159.1 1537.3 1165.4 1539.8 1171.3 1543.1"/>
<path d="M612.0 696.4C641.4 691.8 670.7 686.4 700.3 682.7C726.0 679.5 751.7 676.7 777.5 675.0C791.0 674.1 804.5 673.8 817.9 673.0"/>
<path d="M612.0 734.9C619.9 739.5 628.6 743.0 635.8 748.6C645.2 755.8 653.2 765.0 659.7 774.9C667.7 787.1 672.6 801.4 676.4 815.5C679.6 827.2 681.7 839.2 682.3 851.3C682.9 863.2 681.6 875.2 680.0 887.1C678.4 899.2 674.6 910.9 672.8 922.9C671.0 934.8 669.4 946.7 669.2 958.7C669.0 970.7 669.3 982.8 671.6 994.5C674.0 1006.8 677.9 1019.0 683.5 1030.3C688.6 1040.6 695.4 1050.0 702.6 1058.9C709.6 1067.6 718.0 1075.2 726.0 1083.0C734.4 1091.2 742.7 1099.5 751.7 1106.9C767.5 1119.9 784.8 1131.5 803.2 1140.4C819.6 1148.3 837.2 1153.6 854.7 1158.4C871.6 1163.0 889.0 1165.3 906.1 1168.7C923.3 1172.1 940.6 1174.8 957.6 1179.0C975.0 1183.3 992.4 1187.9 1009.1 1194.4C1026.9 1201.4 1044.6 1209.4 1060.5 1220.1C1075.6 1230.3 1090.0 1242.2 1101.7 1256.2C1112.1 1268.6 1120.5 1282.7 1127.4 1297.3C1132.8 1308.9 1137.7 1320.9 1140.3 1333.4C1142.7 1345.2 1143.1 1357.4 1142.9 1369.4C1142.6 1383.2 1139.0 1396.8 1137.7 1410.6C1136.6 1422.6 1135.3 1434.6 1135.2 1446.6C1135.1 1457.1 1135.0 1467.6 1136.5 1478.0C1137.6 1485.8 1138.9 1493.6 1141.5 1501.0C1144.1 1508.4 1147.9 1515.3 1152.0 1522.0C1154.7 1526.5 1157.9 1530.7 1161.0 1535.0C1164.6 1540.1 1168.5 1544.9 1172.1 1550.0"/>
<path d="M640.2 821.6C647.6 821.6 655.2 822.1 662.3 824.4C667.1 826.0 671.4 828.9 676.0 831.0C679.4 832.5 682.9 833.9 686.2 835.4"/>
<path d="M643.0 1126.8C652.9 1126.8 663.2 1123.9 671.6 1118.6C678.3 1114.4 684.5 1108.8 688.3 1101.9C692.2 1094.8 692.5 1086.1 693.1 1078.0C693.7 1070.0 692.7 1062.0 691.9 1054.1C690.7 1042.1 688.1 1030.2 685.9 1018.3C683.0 1002.3 680.0 986.4 676.4 970.6C672.8 954.6 667.8 938.9 664.4 922.9C661.0 907.1 656.8 891.3 656.1 875.1C655.7 864.8 654.6 854.1 657.3 844.1C659.6 835.5 662.6 826.2 669.2 820.2C673.9 815.9 680.2 813.6 686.1 811.5"/>
<path d="M643.0 1126.8C653.6 1126.8 664.2 1128.0 674.5 1130.1C692.6 1133.9 709.1 1143.1 726.0 1150.7C752.6 1162.7 778.2 1176.8 803.2 1191.8C820.8 1202.3 837.9 1213.6 854.7 1225.3C872.3 1237.6 889.3 1250.5 906.1 1263.9C923.7 1277.9 940.8 1292.6 957.6 1307.6C975.2 1323.4 992.3 1339.8 1009.1 1356.5C1026.7 1374.1 1044.2 1391.8 1060.5 1410.6C1074.9 1427.2 1085.9 1446.7 1101.7 1462.0C1109.1 1469.1 1117.8 1474.8 1125.0 1482.0C1129.7 1486.8 1134.6 1491.5 1138.5 1497.0C1143.3 1503.7 1145.6 1512.0 1150.0 1519.0C1152.8 1523.5 1155.8 1527.8 1159.0 1532.0C1162.9 1537.2 1167.3 1542.1 1171.5 1547.1"/>
<path d="M1008.3 1564.3C1035.6 1564.3 1062.8 1566.1 1090.0 1568.0C1116.3 1569.9 1142.7 1572.1 1168.8 1575.5"/>
<path d="M1000.3 1669.6C1030.4 1669.6 1060.7 1665.7 1090.0 1659.0C1117.6 1652.7 1144.1 1642.2 1170.3 1631.8"/>
<path d="M1333.8 54.9C1364.2 54.8 1394.7 54.6 1425.1 54.6"/>
<path d="M977.9 672.0C983.7 668.7 986.4 661.6 990.0 656.0C995.2 647.9 998.9 638.8 1003.0 630.0C1009.8 615.3 1015.4 600.2 1021.0 585.0C1031.3 557.1 1038.9 528.4 1047.7 500.0C1061.3 456.1 1073.5 411.8 1087.5 368.1C1096.9 338.7 1106.8 309.4 1116.8 280.1C1127.7 247.9 1138.8 215.8 1150.3 183.8C1160.5 155.3 1170.4 126.7 1181.7 98.6"/>
<path d="M977.9 672.0C984.1 668.4 987.7 661.7 992.0 656.0C998.7 647.1 1002.9 636.6 1008.5 627.0C1018.7 609.5 1029.5 592.3 1040.0 575.0C1055.1 550.0 1070.0 524.8 1085.4 500.0C1099.8 476.8 1114.8 454.0 1129.4 431.0C1146.3 404.4 1162.7 377.5 1179.8 351.0"/>
<path d="M977.9 672.0C986.4 671.6 994.9 670.8 1003.1 668.7C1010.5 666.8 1017.9 664.4 1024.6 660.6C1032.8 656.0 1039.8 649.2 1046.2 642.3C1052.3 635.8 1057.6 628.4 1062.3 620.8C1066.5 613.9 1069.8 606.5 1073.1 599.2C1077.1 590.4 1080.0 581.1 1083.9 572.3C1088.8 561.3 1094.5 550.7 1100.0 540.0C1104.3 531.6 1107.7 522.8 1113.0 515.0C1117.1 508.9 1121.9 503.1 1127.0 497.8C1134.6 490.0 1142.7 482.3 1152.5 477.5C1160.1 473.8 1168.5 471.4 1176.8 470.4"/>
<path d="M977.9 672.0C986.3 671.7 994.8 671.2 1003.1 669.5C1010.4 668.0 1017.7 666.1 1024.6 663.2C1032.3 659.9 1039.4 655.2 1046.2 650.3C1053.9 644.8 1060.7 638.0 1067.7 631.6C1075.0 624.9 1081.8 617.6 1089.3 611.1C1096.2 605.1 1103.1 598.9 1110.8 593.9C1119.9 588.1 1129.7 583.1 1140.0 579.9C1148.1 577.4 1156.5 575.9 1164.9 575.1"/>
<path d="M977.9 672.0C1011.7 672.0 1045.5 674.5 1079.3 676.0C1103.3 677.1 1127.4 680.3 1151.4 679.5"/>
<path d="M977.9 672.0C993.5 672.0 1009.1 671.8 1024.6 673.4C1035.5 674.6 1046.7 675.0 1057.0 678.6C1064.6 681.2 1071.7 685.0 1078.5 689.2C1084.2 692.7 1089.5 696.8 1094.7 701.0C1100.4 705.6 1105.3 711.1 1110.8 715.9C1113.4 718.1 1116.2 720.2 1118.8 722.5C1124.2 727.4 1128.8 733.3 1133.8 738.8C1139.3 744.9 1144.5 751.3 1150.0 757.5C1154.9 763.0 1159.2 769.2 1165.0 773.8C1168.3 776.4 1172.1 778.3 1175.6 780.7"/>
<path d="M977.9 672.0C993.5 672.0 1009.1 671.9 1024.6 673.6C1035.5 674.8 1046.7 675.4 1057.0 679.0C1064.6 681.6 1071.7 685.5 1078.5 689.7C1084.2 693.2 1089.5 697.3 1094.7 701.6C1100.4 706.3 1105.2 712.0 1110.8 716.7C1113.4 718.9 1116.3 720.7 1118.8 723.0C1125.1 729.0 1129.1 737.2 1133.0 745.0C1136.9 752.9 1139.7 761.4 1142.0 770.0C1144.6 779.8 1145.5 790.0 1147.0 800.0C1149.0 813.3 1149.1 827.0 1152.5 840.0C1154.5 847.7 1156.4 855.5 1160.0 862.5C1164.1 870.4 1170.5 876.8 1176.2 883.6"/>
<path d="M977.9 672.0C993.5 672.0 1009.1 672.0 1024.6 673.8C1035.5 675.1 1046.7 675.7 1057.0 679.4C1064.6 682.1 1071.7 685.9 1078.5 690.2C1084.2 693.8 1089.5 697.9 1094.7 702.2C1100.4 706.9 1105.2 712.7 1110.8 717.5C1113.4 719.7 1116.4 721.5 1118.8 724.0C1124.5 730.1 1126.4 739.0 1129.0 747.0C1132.5 757.6 1133.4 768.9 1135.0 780.0C1136.9 793.3 1138.0 806.6 1139.0 820.0C1140.1 835.0 1141.2 850.0 1141.0 865.0C1140.9 876.7 1140.9 888.5 1139.0 900.0C1137.1 911.5 1130.4 922.1 1129.5 933.8C1128.9 942.1 1128.9 950.7 1131.2 958.8C1133.5 966.4 1137.0 974.2 1142.5 980.0C1148.4 986.3 1157.4 988.8 1164.9 993.1"/>
<path d="M977.9 672.0C989.9 672.0 1002.1 672.3 1013.9 674.7C1025.0 677.0 1035.8 680.9 1046.2 685.4C1053.6 688.6 1060.6 692.5 1067.7 696.2C1075.0 700.0 1082.1 704.2 1089.3 708.1C1097.2 712.3 1105.7 715.3 1113.0 720.5C1115.4 722.2 1118.0 723.8 1120.0 726.0C1124.6 731.0 1125.4 738.5 1127.5 745.0C1130.2 753.2 1132.0 761.6 1133.8 770.0C1136.2 782.4 1137.6 794.9 1138.8 807.5C1140.1 821.6 1140.4 835.8 1141.0 850.0C1142.4 883.3 1142.3 916.7 1143.0 950.0C1143.6 980.0 1138.1 1010.8 1145.0 1040.0C1147.5 1050.6 1150.3 1061.4 1155.0 1071.2C1158.7 1079.0 1163.4 1086.3 1168.4 1093.4"/>
<path d="M1108.0 780.0C1112.6 780.0 1117.2 778.5 1121.2 776.2C1125.1 774.1 1128.6 771.0 1131.2 767.5C1134.7 762.9 1136.0 756.9 1137.5 751.2C1139.1 745.1 1139.4 738.8 1140.0 732.5C1140.8 724.2 1140.9 715.8 1141.2 707.5C1141.8 695.0 1142.0 682.5 1142.5 670.0C1143.1 653.3 1143.1 636.6 1144.5 620.0C1145.8 604.9 1148.1 590.0 1150.0 575.0C1151.3 565.0 1152.2 554.9 1154.0 545.0C1155.6 536.2 1157.5 527.4 1160.0 518.8C1162.1 511.5 1164.7 504.5 1167.5 497.5C1170.6 489.8 1173.3 481.8 1178.0 475.1"/>
<path d="M1108.0 780.0C1114.7 780.0 1121.7 778.3 1127.5 775.0C1132.4 772.2 1137.0 768.5 1140.0 763.8C1143.5 758.3 1143.8 751.4 1145.0 745.0C1146.5 736.8 1146.4 728.3 1146.9 720.0C1147.6 707.5 1148.0 695.0 1148.0 682.5C1148.0 668.3 1146.8 654.2 1146.5 640.0C1146.4 633.3 1145.3 626.6 1146.2 620.0C1147.5 611.3 1150.7 602.7 1155.0 595.0C1158.0 589.5 1161.5 584.2 1165.9 579.8"/>
<path d="M1108.0 780.0C1114.6 780.0 1121.5 779.0 1127.5 776.2C1132.1 774.1 1137.1 771.7 1140.0 767.5C1142.0 764.6 1142.8 760.9 1143.8 757.5C1146.0 749.5 1144.6 740.8 1145.0 732.5C1145.4 724.2 1145.2 715.8 1146.2 707.5C1146.9 702.8 1147.1 697.9 1148.8 693.5C1149.8 690.8 1150.5 687.7 1152.7 685.9"/>
<path d="M1108.0 780.0C1130.5 780.0 1152.9 782.6 1175.3 783.4"/>
<path d="M1108.0 780.0C1113.8 780.0 1119.6 781.0 1125.0 783.0C1130.5 785.0 1135.5 788.2 1140.0 792.0C1143.8 795.2 1147.2 798.9 1150.0 803.0C1153.9 808.7 1155.4 815.6 1158.0 822.0C1160.4 828.0 1163.0 833.9 1165.0 840.0C1167.7 848.2 1169.0 856.7 1171.2 865.0C1172.9 870.9 1173.4 877.3 1176.5 882.7"/>
<path d="M1108.0 780.0C1112.5 780.0 1117.3 780.3 1121.2 782.5C1125.9 785.1 1128.6 790.4 1131.2 795.0C1134.5 800.7 1135.9 807.4 1137.5 813.8C1140.4 825.5 1140.2 837.9 1141.0 850.0C1142.4 871.6 1140.8 893.3 1141.2 915.0C1141.5 927.5 1140.2 940.2 1142.5 952.5C1144.1 961.1 1145.3 970.2 1150.0 977.5C1153.8 983.3 1159.7 987.6 1165.0 992.1"/>
<path d="M1108.0 780.0C1113.1 780.0 1118.6 780.9 1123.0 783.5C1128.0 786.5 1131.1 792.0 1134.0 797.0C1137.7 803.4 1139.2 810.9 1141.0 818.0C1144.5 831.7 1144.9 845.9 1146.0 860.0C1147.8 882.4 1147.0 905.0 1147.5 927.5C1148.0 951.7 1147.9 975.9 1149.0 1000.0C1149.6 1013.3 1148.9 1026.9 1151.2 1040.0C1153.1 1050.7 1156.7 1061.0 1160.0 1071.2C1162.5 1078.9 1163.9 1087.2 1168.2 1094.0"/>
<path d="M973.5 1000.6C988.9 1000.6 1004.4 1000.1 1019.6 997.8C1035.8 995.4 1052.7 993.4 1067.3 986.0C1075.5 981.9 1082.8 976.3 1090.0 970.6C1100.5 962.3 1112.2 954.2 1118.8 942.5C1122.9 935.0 1124.3 926.2 1127.0 918.0C1129.0 912.0 1131.5 906.1 1133.0 900.0C1134.8 892.6 1135.6 885.0 1136.5 877.5C1138.0 865.1 1138.0 852.5 1138.5 840.0C1139.0 826.7 1139.2 813.3 1139.5 800.0C1140.2 766.7 1142.6 733.4 1140.3 700.2C1139.2 684.0 1136.7 668.0 1135.2 651.9C1132.9 626.2 1131.1 600.5 1130.0 574.7C1128.9 549.8 1128.7 524.9 1128.5 500.0C1128.3 478.4 1127.6 456.7 1128.5 435.1C1129.1 421.1 1129.5 407.1 1131.4 393.2C1133.3 379.1 1134.9 364.8 1139.8 351.4C1143.5 341.1 1146.7 329.8 1154.5 322.1C1159.7 316.9 1166.5 313.5 1173.2 310.4"/>
<path d="M973.5 1000.6C988.9 1000.6 1004.4 999.2 1019.6 996.6C1035.8 993.8 1052.9 991.9 1067.3 983.9C1075.6 979.3 1082.6 972.6 1090.0 966.7C1099.8 958.9 1111.3 952.6 1118.8 942.5C1123.5 936.0 1126.8 928.4 1130.0 921.0C1133.0 914.2 1135.4 907.1 1137.5 900.0C1139.6 892.6 1141.3 885.1 1142.5 877.5C1144.5 865.1 1144.4 852.5 1145.0 840.0C1145.6 826.7 1145.8 813.3 1146.0 800.0C1146.4 776.7 1146.4 753.3 1146.5 730.0C1146.6 703.3 1145.9 676.7 1146.5 650.0C1147.1 625.0 1147.0 599.8 1150.0 575.0C1151.2 565.0 1152.6 554.9 1154.5 545.0C1156.2 536.2 1158.0 527.4 1160.5 518.8C1162.6 511.5 1165.2 504.5 1168.0 497.5C1171.0 489.9 1173.3 481.8 1178.0 475.1"/>
<path d="M973.5 1000.6C988.9 1000.6 1004.4 999.5 1019.6 997.0C1035.8 994.3 1052.8 992.4 1067.3 984.6C1075.5 980.1 1082.7 973.8 1090.0 968.0C1100.0 960.0 1111.6 953.1 1118.8 942.5C1123.3 935.7 1126.0 927.7 1129.0 920.0C1131.6 913.4 1134.1 906.8 1136.0 900.0C1138.0 892.6 1139.4 885.1 1140.5 877.5C1142.3 865.1 1142.0 852.5 1142.5 840.0C1143.0 826.7 1143.3 813.3 1143.5 800.0C1143.9 776.7 1144.0 753.3 1144.0 730.0C1143.9 703.3 1143.4 676.7 1143.0 650.0C1142.8 640.0 1141.4 629.9 1142.5 620.0C1143.5 611.1 1144.2 601.5 1148.8 593.8C1152.7 587.1 1158.8 581.8 1165.2 577.3"/>
<path d="M973.5 1000.6C988.9 1000.6 1004.4 999.8 1019.6 997.4C1035.8 994.9 1052.8 992.9 1067.3 985.3C1075.5 981.0 1082.7 975.1 1090.0 969.3C1100.3 961.2 1111.9 953.7 1118.8 942.5C1123.1 935.3 1125.1 926.9 1128.0 919.0C1130.3 912.7 1132.8 906.5 1134.5 900.0C1136.4 892.6 1137.6 885.1 1138.5 877.5C1139.5 868.4 1139.6 859.2 1139.5 850.0C1139.4 840.0 1139.1 829.9 1137.5 820.0C1136.1 811.5 1133.1 803.4 1131.2 795.0C1129.4 786.7 1127.9 778.3 1126.2 770.0C1125.0 763.8 1123.5 757.5 1122.5 751.2C1121.5 745.0 1120.3 738.8 1120.0 732.5C1119.7 726.3 1119.4 719.9 1120.6 713.8C1121.9 707.5 1123.8 701.1 1127.5 696.0C1130.8 691.5 1135.0 687.4 1140.0 685.0C1143.6 683.2 1147.7 682.7 1151.6 681.9"/>
<path d="M973.5 1000.6C988.9 1000.6 1004.4 998.9 1019.6 996.2C1035.8 993.3 1053.0 991.3 1067.3 983.2C1075.6 978.5 1082.5 971.4 1090.0 965.5C1099.6 957.9 1111.0 952.1 1118.8 942.5C1123.7 936.3 1127.3 929.0 1131.0 922.0C1133.9 916.5 1136.8 910.9 1139.0 905.0C1140.8 900.1 1142.2 895.1 1143.5 890.0C1145.0 883.8 1145.5 877.4 1147.0 871.2C1148.5 864.9 1150.3 858.6 1152.5 852.5C1154.3 847.6 1156.8 842.9 1158.8 838.0C1161.1 832.1 1163.0 826.0 1165.0 820.0C1167.1 813.8 1168.3 807.2 1171.2 801.2C1172.9 798.0 1174.5 794.6 1176.9 791.8"/>
<path d="M973.5 1000.6C993.1 1000.6 1013.0 997.9 1031.6 991.8C1048.5 986.3 1063.9 976.8 1079.3 967.9C1092.4 960.3 1105.5 952.4 1117.4 942.9C1129.5 933.2 1139.2 920.9 1150.8 910.6C1156.4 905.6 1161.2 899.3 1168.0 896.0C1170.5 894.8 1173.2 894.3 1175.7 893.2"/>
<path d="M973.5 1000.6C1012.4 1000.6 1051.2 997.5 1090.0 996.5C1114.9 995.9 1139.9 995.6 1164.8 995.1"/>
<path d="M973.5 1000.6C985.0 1000.6 996.6 1002.0 1007.7 1004.9C1020.3 1008.2 1032.4 1013.6 1043.5 1020.4C1057.0 1028.6 1067.5 1040.9 1079.3 1051.4C1087.3 1058.5 1094.4 1066.6 1103.1 1072.9C1114.1 1080.8 1126.2 1087.4 1138.9 1092.0C1148.1 1095.3 1157.6 1097.7 1167.2 1099.1"/>
<path d="M973.5 1000.6C985.0 1000.6 996.6 1002.3 1007.7 1005.4C1020.3 1008.9 1032.4 1014.5 1043.5 1021.4C1057.1 1029.9 1068.3 1041.7 1079.3 1053.4C1087.9 1062.5 1095.6 1072.4 1103.1 1082.4C1111.7 1093.9 1121.5 1105.0 1127.0 1118.2C1131.7 1129.5 1133.5 1141.9 1135.3 1154.0C1137.0 1165.8 1136.2 1177.9 1137.7 1189.8C1138.6 1196.6 1139.0 1203.5 1141.0 1210.0C1142.6 1215.2 1144.4 1220.5 1147.5 1225.0C1150.1 1228.7 1153.1 1232.3 1156.9 1234.5"/>
<path d="M973.5 1000.6C985.0 1000.6 996.6 1002.7 1007.7 1005.9C1020.3 1009.6 1032.4 1015.4 1043.5 1022.4C1057.0 1031.0 1068.2 1042.9 1079.3 1054.4C1088.1 1063.6 1095.9 1073.6 1104.0 1083.4C1113.5 1094.8 1124.5 1105.3 1131.8 1118.2C1138.1 1129.4 1142.9 1141.6 1146.1 1154.0C1149.1 1165.7 1149.7 1177.8 1150.8 1189.8C1153.2 1216.1 1149.5 1242.6 1151.0 1269.0C1152.8 1301.2 1160.7 1332.8 1163.0 1364.9C1164.4 1384.7 1161.8 1404.9 1165.4 1424.5C1166.9 1432.6 1166.6 1441.7 1171.3 1448.4C1173.6 1451.7 1176.4 1454.6 1179.7 1456.9"/>
<path d="M1345.5 573.9C1353.2 573.9 1361.0 576.2 1367.8 579.8C1375.4 583.8 1380.5 591.6 1386.9 597.3C1391.9 601.8 1396.7 606.4 1402.0 610.5C1403.2 611.4 1404.3 612.4 1405.6 613.2"/>
<path d="M1333.5 784.5C1341.8 784.5 1350.5 785.3 1358.2 788.4C1366.7 791.8 1374.6 797.3 1380.5 804.3C1387.9 813.1 1390.6 825.1 1393.2 836.2C1396.1 848.6 1395.6 861.6 1395.8 874.4C1396.2 895.7 1392.9 916.9 1391.7 938.1C1390.8 954.0 1388.9 970.0 1389.4 985.9C1389.8 998.7 1389.5 1011.8 1393.2 1024.1C1396.6 1035.5 1400.8 1047.5 1409.2 1055.9C1415.5 1062.2 1423.5 1067.3 1432.1 1069.6"/>
<path d="M1333.5 889.9C1339.8 889.9 1346.4 891.8 1351.8 895.1C1359.3 899.6 1363.5 908.2 1367.8 915.8C1374.3 927.4 1376.1 941.0 1378.9 954.0C1382.3 969.7 1383.7 985.8 1385.3 1001.8C1386.9 1017.7 1387.6 1033.7 1388.5 1049.6C1390.1 1078.2 1391.0 1106.9 1391.7 1135.5C1392.2 1156.7 1391.8 1178.0 1392.6 1199.2C1393.4 1220.5 1393.1 1241.9 1396.4 1262.9C1398.9 1279.1 1402.0 1295.3 1407.6 1310.7C1411.0 1320.1 1414.5 1329.7 1420.0 1338.0C1421.9 1340.9 1423.5 1344.1 1426.2 1346.3"/>
<path d="M1345.5 995.3C1351.0 995.3 1356.6 997.5 1361.4 1000.2C1368.2 1004.1 1373.2 1011.0 1377.3 1017.7C1383.1 1027.1 1384.5 1038.8 1386.9 1049.6C1390.6 1066.1 1391.6 1083.1 1392.6 1100.0C1393.3 1111.8 1393.2 1123.7 1393.2 1135.5C1393.2 1167.4 1390.9 1199.3 1388.5 1231.1C1386.1 1263.0 1381.6 1294.7 1378.9 1326.6C1377.1 1347.8 1374.8 1369.0 1374.1 1390.3C1373.4 1411.5 1372.9 1432.9 1374.8 1454.0C1376.3 1470.1 1377.4 1486.4 1382.1 1501.8C1385.1 1511.9 1388.0 1522.4 1394.0 1531.0C1396.3 1534.4 1398.7 1537.8 1401.8 1540.4"/>
<path d="M1339.6 1560.9C1343.6 1558.1 1348.0 1555.8 1351.8 1552.7C1359.4 1546.5 1366.0 1538.9 1371.0 1530.4C1378.7 1517.2 1379.5 1501.0 1382.1 1485.9C1385.7 1464.9 1385.5 1443.5 1386.2 1422.2C1387.3 1390.4 1386.0 1358.5 1385.3 1326.6C1384.6 1294.8 1383.2 1262.9 1382.1 1231.1C1381.0 1199.2 1379.7 1167.4 1378.9 1135.5C1378.1 1103.7 1377.7 1071.8 1377.3 1040.0C1377.0 1011.3 1376.8 982.7 1376.7 954.0C1376.5 922.2 1376.2 890.3 1376.4 858.5C1376.6 837.3 1376.6 816.0 1377.3 794.8C1378.0 773.6 1378.4 752.3 1380.5 731.1C1382.1 715.1 1383.4 699.0 1386.9 683.3C1390.0 669.2 1393.5 655.0 1399.6 641.9C1402.0 636.7 1404.4 631.4 1407.7 626.7"/>
<path d="M1339.6 1560.9C1343.4 1558.2 1346.6 1554.7 1350.0 1551.5C1356.1 1545.7 1363.1 1540.6 1367.8 1533.6C1374.1 1524.3 1376.5 1512.8 1378.9 1501.8C1382.2 1486.2 1380.4 1469.9 1380.5 1454.0C1380.7 1432.8 1378.9 1411.5 1378.9 1390.3C1378.9 1369.1 1379.3 1347.8 1380.5 1326.6C1382.1 1300.0 1385.5 1273.5 1388.5 1247.0C1390.9 1225.7 1393.5 1204.5 1396.4 1183.3C1398.9 1165.2 1400.0 1146.9 1404.4 1129.2C1407.3 1117.3 1408.5 1104.2 1415.5 1094.1C1420.1 1087.5 1426.6 1082.4 1432.7 1077.2"/>
<path d="M1339.6 1560.9C1343.6 1558.3 1347.9 1556.0 1352.0 1553.5C1359.4 1549.0 1368.1 1546.2 1374.1 1540.0C1381.6 1532.3 1385.1 1521.5 1388.5 1511.3C1392.9 1498.1 1392.8 1483.8 1393.9 1469.9C1395.1 1454.0 1393.6 1438.1 1394.8 1422.2C1395.8 1409.4 1395.0 1395.9 1399.6 1383.9C1402.6 1375.9 1405.8 1367.2 1412.4 1361.7C1416.2 1358.5 1421.0 1356.8 1425.5 1354.7"/>
<path d="M1339.6 1560.9C1348.5 1556.7 1358.2 1554.4 1367.8 1552.1C1375.2 1550.3 1382.7 1549.5 1390.1 1548.0C1393.8 1547.3 1397.5 1545.8 1401.3 1545.7"/>
<use href="#m" transform="translate(430.9 713.3) rotate(0.0)"/>
<use href="#m" transform="translate(433.1 742.7) rotate(-30.0)"/>
<use href="#m" transform="translate(1179.7 113.6) rotate(-1.0)"/>
<use href="#m" transform="translate(1177.3 277.6) rotate(-1.0)"/>
<use href="#m" transform="translate(421.7 962.5) rotate(-15.0)"/>
<use href="#m" transform="translate(690.7 870.4) rotate(-9.5)"/>
<use href="#m" transform="translate(415.8 1334.0) rotate(7.0)"/>
<use href="#m" transform="translate(1161.2 1266.4) rotate(2.0)"/>
<use href="#m" transform="translate(1183.9 1431.5) rotate(-2.0)"/>
<use href="#m" transform="translate(1175.6 1544.3) rotate(15.0)"/>
<use href="#m" transform="translate(822.4 672.7) rotate(-3.4)"/>
<use href="#m" transform="translate(1175.6 1552.8) rotate(38.0)"/>
<use href="#m" transform="translate(690.7 836.1) rotate(9.0)"/>
<use href="#m" transform="translate(690.6 810.9) rotate(-6.6)"/>
<use href="#m" transform="translate(1175.6 1549.0) rotate(25.0)"/>
<use href="#m" transform="translate(1173.3 1576.1) rotate(7.5)"/>
<use href="#m" transform="translate(1174.5 1630.1) rotate(-21.7)"/>
<use href="#m" transform="translate(1429.6 54.6) rotate(0.0)"/>
<use href="#m" transform="translate(1184.7 95.3) rotate(-48.0)"/>
<use href="#m" transform="translate(1182.7 347.6) rotate(-50.0)"/>
<use href="#m" transform="translate(1181.3 469.9) rotate(-7.0)"/>
<use href="#m" transform="translate(1169.4 574.7) rotate(-5.0)"/>
<use href="#m" transform="translate(1155.9 679.3) rotate(-2.0)"/>
<use href="#m" transform="translate(1180.0 781.5) rotate(10.0)"/>
<use href="#m" transform="translate(1180.5 885.0) rotate(17.0)"/>
<use href="#m" transform="translate(1169.4 993.5) rotate(5.0)"/>
<use href="#m" transform="translate(1172.6 1094.9) rotate(20.0)"/>
<use href="#m" transform="translate(1182.2 473.4) rotate(-21.0)"/>
<use href="#m" transform="translate(1170.1 578.3) rotate(-19.0)"/>
<use href="#m" transform="translate(1156.9 684.2) rotate(-21.0)"/>
<use href="#m" transform="translate(1179.8 783.6) rotate(2.0)"/>
<use href="#m" transform="translate(1180.7 884.2) rotate(20.0)"/>
<use href="#m" transform="translate(1169.4 992.7) rotate(8.0)"/>
<use href="#m" transform="translate(1172.4 1095.4) rotate(18.0)"/>
<use href="#m" transform="translate(1177.6 309.5) rotate(-11.0)"/>
<use href="#m" transform="translate(1182.2 473.4) rotate(-21.0)"/>
<use href="#m" transform="translate(1169.6 576.4) rotate(-11.5)"/>
<use href="#m" transform="translate(1156.1 681.2) rotate(-9.0)"/>
<use href="#m" transform="translate(1181.0 790.0) rotate(-23.0)"/>
<use href="#m" transform="translate(1180.1 892.3) rotate(-11.0)"/>
<use href="#m" transform="translate(1169.3 995.1) rotate(-1.0)"/>
<use href="#m" transform="translate(1171.7 1099.3) rotate(3.0)"/>
<use href="#m" transform="translate(1161.4 1235.2) rotate(9.0)"/>
<use href="#m" transform="translate(1184.1 1457.7) rotate(10.0)"/>
<use href="#m" transform="translate(1410.0 614.1) rotate(11.5)"/>
<use href="#m" transform="translate(1436.6 1070.2) rotate(6.6)"/>
<use href="#m" transform="translate(1430.5 1347.7) rotate(17.0)"/>
<use href="#m" transform="translate(1406.2 1541.5) rotate(13.4)"/>
<use href="#m" transform="translate(1411.6 624.5) rotate(-29.0)"/>
<use href="#m" transform="translate(1437.1 1076.0) rotate(-15.6)"/>
<use href="#m" transform="translate(1429.9 1354.1) rotate(-7.5)"/>
<use href="#m" transform="translate(1405.8 1545.5) rotate(-2.0)"/>
</g>
<text x="16.5" y="1744.6" textLength="188.8" lengthAdjust="spacingAndGlyphs">Generated by SchemaSpy</text>
</svg>
</body></html>
